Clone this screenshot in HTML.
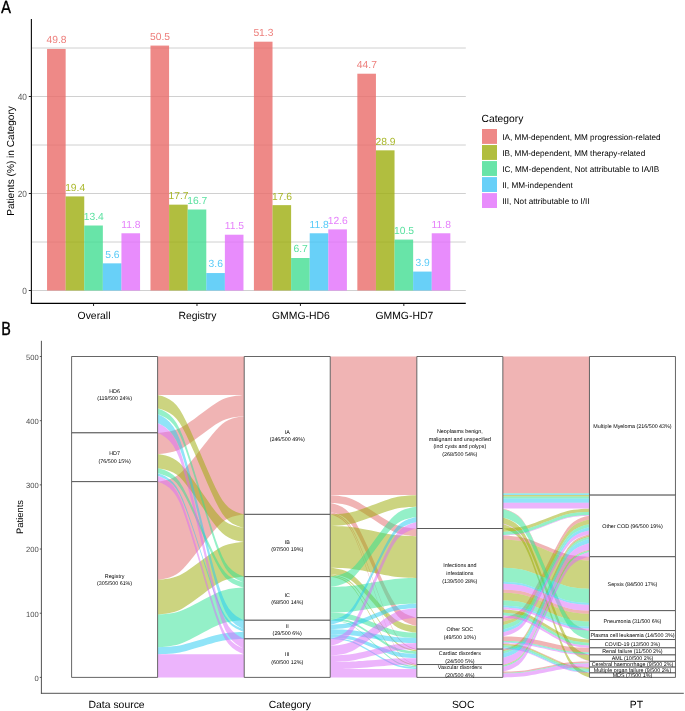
<!DOCTYPE html>
<html lang="en"><head><meta charset="utf-8"><title>Figure</title>
<style>html,body{margin:0;padding:0;background:#fff}svg{display:block}text{white-space:pre;text-rendering:geometricPrecision}</style>
</head><body>
<svg width="685" height="711" viewBox="0 0 685 711" font-family='"Liberation Sans", sans-serif'>
<line x1="31.4" x2="465.8" y1="290.50" y2="290.50" stroke="#D0D0D0" stroke-width="1"/>
<line x1="31.4" x2="465.8" y1="242.00" y2="242.00" stroke="#D0D0D0" stroke-width="1"/>
<line x1="31.4" x2="465.8" y1="193.50" y2="193.50" stroke="#D0D0D0" stroke-width="1"/>
<line x1="31.4" x2="465.8" y1="145.00" y2="145.00" stroke="#D0D0D0" stroke-width="1"/>
<line x1="31.4" x2="465.8" y1="96.50" y2="96.50" stroke="#D0D0D0" stroke-width="1"/>
<line x1="31.4" x2="465.8" y1="48.00" y2="48.00" stroke="#D0D0D0" stroke-width="1"/>
<rect x="47.05" y="48.97" width="18.60" height="241.53" fill="#EA6C69" fill-opacity="0.8"/>
<rect x="65.65" y="196.41" width="18.60" height="94.09" fill="#9EAE0F" fill-opacity="0.8"/>
<rect x="84.25" y="225.51" width="18.60" height="64.99" fill="#42DD92" fill-opacity="0.8"/>
<rect x="102.85" y="263.34" width="18.60" height="27.16" fill="#42C4F6" fill-opacity="0.8"/>
<rect x="121.45" y="233.27" width="18.60" height="57.23" fill="#E26FFB" fill-opacity="0.8"/>
<text x="56.55" y="43.37" font-size="10.3" fill="#EA6C69" fill-opacity="0.88" text-anchor="middle">49.8</text>
<text x="75.15" y="190.81" font-size="10.3" fill="#9EAE0F" fill-opacity="0.88" text-anchor="middle">19.4</text>
<text x="93.75" y="219.91" font-size="10.3" fill="#42DD92" fill-opacity="0.88" text-anchor="middle">13.4</text>
<text x="112.35" y="257.74" font-size="10.3" fill="#42C4F6" fill-opacity="0.88" text-anchor="middle">5.6</text>
<text x="130.95" y="227.67" font-size="10.3" fill="#E26FFB" fill-opacity="0.88" text-anchor="middle">11.8</text>
<line x1="93.55" x2="93.55" y1="303.2" y2="306.0" stroke="#222" stroke-width="1"/>
<text x="94.05" y="318.7" font-size="10.4" fill="#000" text-anchor="middle">Overall</text>
<rect x="150.48" y="45.58" width="18.60" height="244.92" fill="#EA6C69" fill-opacity="0.8"/>
<rect x="169.08" y="204.66" width="18.60" height="85.84" fill="#9EAE0F" fill-opacity="0.8"/>
<rect x="187.68" y="209.50" width="18.60" height="81.00" fill="#42DD92" fill-opacity="0.8"/>
<rect x="206.28" y="273.04" width="18.60" height="17.46" fill="#42C4F6" fill-opacity="0.8"/>
<rect x="224.88" y="234.72" width="18.60" height="55.78" fill="#E26FFB" fill-opacity="0.8"/>
<text x="159.98" y="39.98" font-size="10.3" fill="#EA6C69" fill-opacity="0.88" text-anchor="middle">50.5</text>
<text x="178.58" y="199.06" font-size="10.3" fill="#9EAE0F" fill-opacity="0.88" text-anchor="middle">17.7</text>
<text x="197.18" y="203.91" font-size="10.3" fill="#42DD92" fill-opacity="0.88" text-anchor="middle">16.7</text>
<text x="215.78" y="267.44" font-size="10.3" fill="#42C4F6" fill-opacity="0.88" text-anchor="middle">3.6</text>
<text x="234.38" y="229.12" font-size="10.3" fill="#E26FFB" fill-opacity="0.88" text-anchor="middle">11.5</text>
<line x1="196.98" x2="196.98" y1="303.2" y2="306.0" stroke="#222" stroke-width="1"/>
<text x="197.48" y="318.7" font-size="10.4" fill="#000" text-anchor="middle">Registry</text>
<rect x="253.91" y="41.70" width="18.60" height="248.80" fill="#EA6C69" fill-opacity="0.8"/>
<rect x="272.51" y="205.14" width="18.60" height="85.36" fill="#9EAE0F" fill-opacity="0.8"/>
<rect x="291.11" y="258.00" width="18.60" height="32.50" fill="#42DD92" fill-opacity="0.8"/>
<rect x="309.71" y="233.27" width="18.60" height="57.23" fill="#42C4F6" fill-opacity="0.8"/>
<rect x="328.31" y="229.39" width="18.60" height="61.11" fill="#E26FFB" fill-opacity="0.8"/>
<text x="263.41" y="36.10" font-size="10.3" fill="#EA6C69" fill-opacity="0.88" text-anchor="middle">51.3</text>
<text x="282.01" y="199.54" font-size="10.3" fill="#9EAE0F" fill-opacity="0.88" text-anchor="middle">17.6</text>
<text x="300.61" y="252.41" font-size="10.3" fill="#42DD92" fill-opacity="0.88" text-anchor="middle">6.7</text>
<text x="319.21" y="227.67" font-size="10.3" fill="#42C4F6" fill-opacity="0.88" text-anchor="middle">11.8</text>
<text x="337.81" y="223.79" font-size="10.3" fill="#E26FFB" fill-opacity="0.88" text-anchor="middle">12.6</text>
<line x1="300.41" x2="300.41" y1="303.2" y2="306.0" stroke="#222" stroke-width="1"/>
<text x="300.91" y="318.7" font-size="10.4" fill="#000" text-anchor="middle">GMMG-HD6</text>
<rect x="357.34" y="73.71" width="18.60" height="216.79" fill="#EA6C69" fill-opacity="0.8"/>
<rect x="375.94" y="150.34" width="18.60" height="140.16" fill="#9EAE0F" fill-opacity="0.8"/>
<rect x="394.54" y="239.57" width="18.60" height="50.93" fill="#42DD92" fill-opacity="0.8"/>
<rect x="413.14" y="271.58" width="18.60" height="18.92" fill="#42C4F6" fill-opacity="0.8"/>
<rect x="431.74" y="233.27" width="18.60" height="57.23" fill="#E26FFB" fill-opacity="0.8"/>
<text x="366.84" y="68.11" font-size="10.3" fill="#EA6C69" fill-opacity="0.88" text-anchor="middle">44.7</text>
<text x="385.44" y="144.74" font-size="10.3" fill="#9EAE0F" fill-opacity="0.88" text-anchor="middle">28.9</text>
<text x="404.04" y="233.97" font-size="10.3" fill="#42DD92" fill-opacity="0.88" text-anchor="middle">10.5</text>
<text x="422.64" y="265.98" font-size="10.3" fill="#42C4F6" fill-opacity="0.88" text-anchor="middle">3.9</text>
<text x="441.24" y="227.67" font-size="10.3" fill="#E26FFB" fill-opacity="0.88" text-anchor="middle">11.8</text>
<line x1="403.84" x2="403.84" y1="303.2" y2="306.0" stroke="#222" stroke-width="1"/>
<text x="404.34" y="318.7" font-size="10.4" fill="#000" text-anchor="middle">GMMG-HD7</text>
<line x1="31.4" x2="31.4" y1="19.1" y2="303.75" stroke="#111" stroke-width="1.15"/>
<line x1="30.849999999999998" x2="465.8" y1="303.34999999999997" y2="303.34999999999997" stroke="#000" stroke-width="1.15"/>
<line x1="28.799999999999997" x2="31.4" y1="290.50" y2="290.50" stroke="#222" stroke-width="1"/>
<text transform="translate(26.9,294.00) scale(1,1.09)" font-size="8.3" fill="#555" text-anchor="end">0</text>
<line x1="28.799999999999997" x2="31.4" y1="193.50" y2="193.50" stroke="#222" stroke-width="1"/>
<text transform="translate(26.9,197.00) scale(1,1.09)" font-size="8.3" fill="#555" text-anchor="end">20</text>
<line x1="28.799999999999997" x2="31.4" y1="96.50" y2="96.50" stroke="#222" stroke-width="1"/>
<text transform="translate(26.9,100.00) scale(1,1.09)" font-size="8.3" fill="#555" text-anchor="end">40</text>
<text transform="translate(13.5,161.0) rotate(-90)" font-size="10.15" fill="#000" text-anchor="middle">Patients (%) in Category</text>
<text transform="translate(0.9,13.0) scale(0.885,1)" font-size="16.7" fill="#000" stroke="#000" stroke-width="0.3" font-family="'DejaVu Sans', 'Liberation Sans', sans-serif">A</text>
<text transform="translate(0.9,334.7) scale(0.82,1)" font-size="18" fill="#000" stroke="#000" stroke-width="0.3" font-family="'DejaVu Sans', 'Liberation Sans', sans-serif">B</text>
<text x="481.5" y="122.3" font-size="10.3" fill="#000">Category</text>
<rect x="482" y="129.00" width="15" height="14.9" fill="#EA6C69" fill-opacity="0.8"/>
<text x="502.3" y="139.70" font-size="8.2" fill="#000">IA, MM-dependent, MM progression-related</text>
<rect x="482" y="145.03" width="15" height="14.9" fill="#9EAE0F" fill-opacity="0.8"/>
<text x="502.3" y="155.73" font-size="8.2" fill="#000">IB, MM-dependent, MM therapy-related</text>
<rect x="482" y="161.06" width="15" height="14.9" fill="#42DD92" fill-opacity="0.8"/>
<text x="502.3" y="171.76" font-size="8.2" fill="#000">IC, MM-dependent, Not attributable to IA/IB</text>
<rect x="482" y="177.09" width="15" height="14.9" fill="#42C4F6" fill-opacity="0.8"/>
<text x="502.3" y="187.79" font-size="8.2" fill="#000">II, MM-independent</text>
<rect x="482" y="193.12" width="15" height="14.9" fill="#E26FFB" fill-opacity="0.8"/>
<text x="502.3" y="203.82" font-size="8.2" fill="#000">III, Not attributable to I/II</text>
<path d="M157.6,356.5 157.8,356.5 159.2,356.5 162,356.5 165.7,356.5 169.6,356.5 173.2,356.5 176.5,356.5 179.7,356.5 182.9,356.5 186.3,356.5 190.1,356.5 194.3,356.5 198.7,356.5 203.2,356.5 207.6,356.5 211.7,356.5 215.5,356.5 219,356.5 222.2,356.5 225.3,356.5 228.6,356.5 232.2,356.5 236.1,356.5 239.9,356.5 242.6,356.5 244,356.5 244.2,356.5 244.2,395 244,395 242.6,395 239.9,395 236.1,395 232.2,395 228.6,395 225.3,395 222.2,395 219,395 215.5,395 211.7,395 207.6,395 203.2,395 198.7,395 194.3,395 190.1,395 186.3,395 182.9,395 179.7,395 176.5,395 173.2,395 169.6,395 165.7,395 162,395 159.2,395 157.8,395 157.6,395Z" fill="#E16969" fill-opacity="0.5"/>
<path d="M157.6,432.9 157.8,432.9 159.2,432.8 162,432.5 165.7,432.1 169.6,431.5 173.2,430.6 176.5,429.6 179.7,428.3 182.9,426.6 186.3,424.4 190.1,421.8 194.3,418.9 198.7,415.6 203.2,412.3 207.6,409 211.7,406 215.5,403.5 219,401.3 222.2,399.6 225.3,398.3 228.6,397.2 232.2,396.4 236.1,395.8 239.9,395.4 242.6,395.1 244,395 244.2,395 244.2,416.2 244,416.2 242.6,416.3 239.9,416.5 236.1,417 232.2,417.6 228.6,418.4 225.3,419.4 222.2,420.8 219,422.5 215.5,424.6 211.7,427.2 207.6,430.2 203.2,433.4 198.7,436.8 194.3,440 190.1,443 186.3,445.6 182.9,447.7 179.7,449.5 176.5,450.8 173.2,451.8 169.6,452.6 165.7,453.3 162,453.7 159.2,453.9 157.8,454 157.6,454.1Z" fill="#E16969" fill-opacity="0.5"/>
<path d="M157.6,481.7 157.8,481.6 159.2,481.5 162,481 165.7,480.3 169.6,479.2 173.2,477.8 176.5,476 179.7,473.7 182.9,470.7 186.3,467 190.1,462.6 194.3,457.4 198.7,451.8 203.2,446 207.6,440.4 211.7,435.3 215.5,430.8 219,427.1 222.2,424.1 225.3,421.8 228.6,420 232.2,418.6 236.1,417.6 239.9,416.8 242.6,416.4 244,416.2 244.2,416.2 244.2,514.4 244,514.4 242.6,514.6 239.9,515 236.1,515.8 232.2,516.8 228.6,518.2 225.3,520 222.2,522.3 219,525.3 215.5,529 211.7,533.5 207.6,538.6 203.2,544.2 198.7,550 194.3,555.6 190.1,560.8 186.3,565.2 182.9,568.9 179.7,571.9 176.5,574.2 173.2,576 169.6,577.4 165.7,578.5 162,579.2 159.2,579.7 157.8,579.8 157.6,579.8Z" fill="#E16969" fill-opacity="0.5"/>
<path d="M330.2,356.5 330.4,356.5 331.8,356.5 334.6,356.5 338.3,356.5 342.2,356.5 345.8,356.5 349.1,356.5 352.3,356.5 355.5,356.5 358.9,356.5 362.7,356.5 366.9,356.5 371.3,356.5 375.8,356.5 380.2,356.5 384.3,356.5 388.1,356.5 391.6,356.5 394.8,356.5 397.9,356.5 401.2,356.5 404.8,356.5 408.7,356.5 412.5,356.5 415.3,356.5 416.6,356.5 416.8,356.5 416.8,495.1 416.6,495.1 415.3,495.1 412.5,495.1 408.7,495.1 404.8,495.1 401.2,495.1 397.9,495.1 394.8,495.1 391.6,495.1 388.1,495.1 384.3,495.1 380.2,495.1 375.8,495.1 371.3,495.1 366.9,495.1 362.7,495.1 358.9,495.1 355.5,495.1 352.3,495.1 349.1,495.1 345.8,495.1 342.2,495.1 338.3,495.1 334.6,495.1 331.8,495.1 330.4,495.1 330.2,495.1Z" fill="#E16969" fill-opacity="0.5"/>
<path d="M330.2,495.1 330.4,495.1 331.8,495.2 334.6,495.4 338.3,495.8 342.2,496.4 345.8,497.1 349.1,498 352.3,499.2 355.5,500.7 358.9,502.6 362.7,504.9 366.9,507.5 371.3,510.3 375.8,513.3 380.2,516.2 384.3,518.8 388.1,521.1 391.6,522.9 394.8,524.5 397.9,525.6 401.2,526.5 404.8,527.3 408.7,527.8 412.5,528.2 415.3,528.4 416.6,528.5 416.8,528.5 416.8,536.2 416.6,536.2 415.3,536.1 412.5,535.9 408.7,535.5 404.8,535 401.2,534.2 397.9,533.3 394.8,532.2 391.6,530.6 388.1,528.8 384.3,526.5 380.2,523.9 375.8,521 371.3,518 366.9,515.2 362.7,512.6 358.9,510.3 355.5,508.4 352.3,506.9 349.1,505.7 345.8,504.8 342.2,504.1 338.3,503.5 334.6,503.1 331.8,502.9 330.4,502.8 330.2,502.8Z" fill="#E16969" fill-opacity="0.5"/>
<path d="M330.2,502.8 330.4,502.9 331.8,503.2 334.6,503.9 338.3,505.3 342.2,507.1 345.8,509.6 349.1,512.7 352.3,516.8 355.5,522 358.9,528.5 362.7,536.3 366.9,545.3 371.3,555.2 375.8,565.4 380.2,575.2 384.3,584.2 388.1,592.1 391.6,598.6 394.8,603.8 397.9,607.8 401.2,611 404.8,613.4 408.7,615.3 412.5,616.6 415.3,617.4 416.6,617.7 416.8,617.7 416.8,626.1 416.6,626 415.3,625.7 412.5,625 408.7,623.6 404.8,621.8 401.2,619.3 397.9,616.2 394.8,612.2 391.6,607 388.1,600.6 384.3,592.8 380.2,583.8 375.8,574 371.3,563.9 366.9,554.1 362.7,545.1 358.9,537.3 355.5,530.9 352.3,525.7 349.1,521.7 345.8,518.5 342.2,516.1 338.3,514.2 334.6,512.9 331.8,512.1 330.4,511.9 330.2,511.8Z" fill="#E16969" fill-opacity="0.5"/>
<path d="M330.2,511.8 330.4,511.9 331.8,512.2 334.6,513.1 338.3,514.7 342.2,517 345.8,519.9 349.1,523.6 352.3,528.5 355.5,534.7 358.9,542.5 362.7,551.8 366.9,562.6 371.3,574.4 375.8,586.6 380.2,598.4 384.3,609.1 388.1,618.5 391.6,626.3 394.8,632.5 397.9,637.3 401.2,641.1 404.8,644 408.7,646.3 412.5,647.8 415.3,648.8 416.6,649.1 416.8,649.2 416.8,650.1 416.6,650.1 415.3,649.7 412.5,648.8 408.7,647.2 404.8,645 401.2,642.1 397.9,638.3 394.8,633.5 391.6,627.3 388.1,619.5 384.3,610.2 380.2,599.4 375.8,587.7 371.3,575.5 366.9,563.8 362.7,553 358.9,543.7 355.5,535.9 352.3,529.7 349.1,524.9 345.8,521.2 342.2,518.2 338.3,516 334.6,514.4 331.8,513.5 330.4,513.1 330.2,513.1Z" fill="#E16969" fill-opacity="0.5"/>
<path d="M330.2,513.1 330.4,513.2 331.8,513.5 334.6,514.5 338.3,516.3 342.2,518.8 345.8,522 349.1,526.1 352.3,531.5 355.5,538.3 358.9,546.9 362.7,557.2 366.9,569.1 371.3,582.1 375.8,595.5 380.2,608.5 384.3,620.4 388.1,630.7 391.6,639.3 394.8,646.2 397.9,651.5 401.2,655.7 404.8,658.9 408.7,661.4 412.5,663.1 415.3,664.1 416.6,664.5 416.8,664.6 416.8,665.2 416.6,665.2 415.3,664.8 412.5,663.8 408.7,662 404.8,659.5 401.2,656.3 397.9,652.2 394.8,646.9 391.6,640.1 388.1,631.5 384.3,621.3 380.2,609.4 375.8,596.5 371.3,583.1 366.9,570.2 362.7,558.3 358.9,548.1 355.5,539.5 352.3,532.7 349.1,527.4 345.8,523.3 342.2,520 338.3,517.6 334.6,515.8 331.8,514.8 330.4,514.4 330.2,514.4Z" fill="#E16969" fill-opacity="0.5"/>
<path d="M502.8,356.5 503.1,356.5 504.4,356.5 507.2,356.5 510.9,356.5 514.8,356.5 518.5,356.5 521.8,356.5 524.9,356.5 528.1,356.5 531.6,356.5 535.3,356.5 539.5,356.5 543.9,356.5 548.4,356.5 552.8,356.5 557,356.5 560.7,356.5 564.2,356.5 567.4,356.5 570.5,356.5 573.8,356.5 577.5,356.5 581.4,356.5 585.1,356.5 587.9,356.5 589.2,356.5 589.5,356.5 589.5,493.2 589.2,493.2 587.9,493.2 585.1,493.2 581.4,493.2 577.5,493.2 573.8,493.2 570.5,493.2 567.4,493.2 564.2,493.2 560.7,493.2 557,493.2 552.8,493.2 548.4,493.2 543.9,493.2 539.5,493.2 535.3,493.2 531.6,493.2 528.1,493.2 524.9,493.2 521.8,493.2 518.5,493.2 514.8,493.2 510.9,493.2 507.2,493.2 504.4,493.2 503.1,493.2 502.8,493.2Z" fill="#E16969" fill-opacity="0.5"/>
<path d="M502.8,508.6 503.1,508.7 504.4,509 507.2,509.8 510.9,511.2 514.8,513.2 518.5,515.8 521.8,519.1 524.9,523.4 528.1,528.9 531.6,535.8 535.3,544.1 539.5,553.7 543.9,564.2 548.4,575 552.8,585.4 557,595 560.7,603.3 564.2,610.2 567.4,615.8 570.5,620.1 573.8,623.4 577.5,626 581.4,628 585.1,629.4 587.9,630.2 589.2,630.5 589.5,630.5 589.5,631.2 589.2,631.1 587.9,630.8 585.1,630 581.4,628.6 577.5,626.6 573.8,624 570.5,620.7 567.4,616.4 564.2,610.9 560.7,604 557,595.7 552.8,586.1 548.4,575.6 543.9,564.8 539.5,554.3 535.3,544.8 531.6,536.5 528.1,529.6 524.9,524 521.8,519.7 518.5,516.4 514.8,513.8 510.9,511.8 507.2,510.4 504.4,509.6 503.1,509.3 502.8,509.2Z" fill="#E16969" fill-opacity="0.5"/>
<path d="M502.8,535.6 503.1,535.6 504.4,535.6 507.2,535.8 510.9,536 514.8,536.4 518.5,536.8 521.8,537.4 524.9,538.1 528.1,539.1 531.6,540.3 535.3,541.7 539.5,543.4 543.9,545.2 548.4,547.1 552.8,548.9 557,550.6 560.7,552 564.2,553.2 567.4,554.2 570.5,554.9 573.8,555.5 577.5,555.9 581.4,556.3 585.1,556.5 587.9,556.7 589.2,556.7 589.5,556.7 589.5,560.6 589.2,560.6 587.9,560.5 585.1,560.4 581.4,560.1 577.5,559.8 573.8,559.3 570.5,558.8 567.4,558 564.2,557.1 560.7,555.9 557,554.4 552.8,552.8 548.4,550.9 543.9,549.1 539.5,547.2 535.3,545.6 531.6,544.1 528.1,542.9 524.9,542 521.8,541.2 518.5,540.7 514.8,540.2 510.9,539.9 507.2,539.6 504.4,539.5 503.1,539.4 502.8,539.4Z" fill="#E16969" fill-opacity="0.5"/>
<path d="M502.8,589.5 503.1,589.5 504.4,589.5 507.2,589.7 510.9,589.9 514.8,590.3 518.5,590.7 521.8,591.3 524.9,592 528.1,593 531.6,594.2 535.3,595.6 539.5,597.3 543.9,599.1 548.4,601 552.8,602.8 557,604.5 560.7,605.9 564.2,607.1 567.4,608.1 570.5,608.8 573.8,609.4 577.5,609.9 581.4,610.2 585.1,610.5 587.9,610.6 589.2,610.6 589.5,610.7 589.5,613.9 589.2,613.9 587.9,613.8 585.1,613.7 581.4,613.4 577.5,613.1 573.8,612.6 570.5,612 567.4,611.3 564.2,610.3 560.7,609.1 557,607.7 552.8,606 548.4,604.2 543.9,602.3 539.5,600.5 535.3,598.9 531.6,597.4 528.1,596.2 524.9,595.3 521.8,594.5 518.5,593.9 514.8,593.5 510.9,593.1 507.2,592.9 504.4,592.7 503.1,592.7 502.8,592.7Z" fill="#E16969" fill-opacity="0.5"/>
<path d="M502.8,617.7 503.1,617.7 504.4,617.4 507.2,616.7 510.9,615.6 514.8,613.9 518.5,611.7 521.8,608.9 524.9,605.3 528.1,600.7 531.6,594.9 535.3,588 539.5,580 543.9,571.2 548.4,562.2 552.8,553.4 557,545.4 560.7,538.4 564.2,532.7 567.4,528 570.5,524.5 573.8,521.7 577.5,519.5 581.4,517.8 585.1,516.6 587.9,516 589.2,515.7 589.5,515.7 589.5,519.5 589.2,519.6 587.9,519.8 585.1,520.5 581.4,521.7 577.5,523.3 573.8,525.5 570.5,528.3 567.4,531.9 564.2,536.5 560.7,542.3 557,549.2 552.8,557.3 548.4,566 543.9,575.1 539.5,583.8 535.3,591.8 531.6,598.8 528.1,604.6 524.9,609.2 521.8,612.8 518.5,615.6 514.8,617.7 510.9,619.4 507.2,620.6 504.4,621.3 503.1,621.5 502.8,621.6Z" fill="#E16969" fill-opacity="0.5"/>
<path d="M502.8,636.3 503.1,636.3 504.4,636.4 507.2,636.4 510.9,636.6 514.8,636.8 518.5,637 521.8,637.3 524.9,637.7 528.1,638.3 531.6,638.9 535.3,639.7 539.5,640.6 543.9,641.6 548.4,642.6 552.8,643.6 557,644.5 560.7,645.3 564.2,646 567.4,646.5 570.5,646.9 573.8,647.2 577.5,647.4 581.4,647.6 585.1,647.8 587.9,647.8 589.2,647.9 589.5,647.9 589.5,652.4 589.2,652.4 587.9,652.3 585.1,652.3 581.4,652.1 577.5,651.9 573.8,651.7 570.5,651.4 567.4,651 564.2,650.4 560.7,649.8 557,649 552.8,648.1 548.4,647.1 543.9,646.1 539.5,645.1 535.3,644.2 531.6,643.4 528.1,642.7 524.9,642.2 521.8,641.8 518.5,641.5 514.8,641.3 510.9,641.1 507.2,640.9 504.4,640.9 503.1,640.8 502.8,640.8Z" fill="#E16969" fill-opacity="0.5"/>
<path d="M502.8,643.4 503.1,643.4 504.4,643.5 507.2,643.6 510.9,643.9 514.8,644.3 518.5,644.8 521.8,645.4 524.9,646.3 528.1,647.3 531.6,648.7 535.3,650.3 539.5,652.2 543.9,654.2 548.4,656.3 552.8,658.3 557,660.2 560.7,661.8 564.2,663.2 567.4,664.3 570.5,665.1 573.8,665.7 577.5,666.2 581.4,666.6 585.1,666.9 587.9,667.1 589.2,667.1 589.5,667.1 589.5,667.8 589.2,667.8 587.9,667.7 585.1,667.5 581.4,667.3 577.5,666.9 573.8,666.4 570.5,665.7 567.4,664.9 564.2,663.8 560.7,662.5 557,660.9 552.8,659 548.4,657 543.9,654.8 539.5,652.8 535.3,650.9 531.6,649.3 528.1,648 524.9,646.9 521.8,646.1 518.5,645.4 514.8,644.9 510.9,644.5 507.2,644.3 504.4,644.1 503.1,644 502.8,644Z" fill="#E16969" fill-opacity="0.5"/>
<path d="M502.8,649.2 503.1,649.1 504.4,648.8 507.2,648.1 510.9,646.7 514.8,644.9 518.5,642.4 521.8,639.3 524.9,635.2 528.1,630 531.6,623.5 535.3,615.7 539.5,606.7 543.9,596.8 548.4,586.6 552.8,576.8 557,567.7 560.7,559.9 564.2,553.4 567.4,548.2 570.5,544.2 573.8,541 577.5,538.6 581.4,536.7 585.1,535.4 587.9,534.6 589.2,534.3 589.5,534.3 589.5,535.6 589.2,535.6 587.9,535.9 585.1,536.7 581.4,538 577.5,539.9 573.8,542.3 570.5,545.4 567.4,549.4 564.2,554.6 560.7,561.1 557,568.9 552.8,577.9 548.4,587.7 543.9,597.9 539.5,607.7 535.3,616.7 531.6,624.5 528.1,631 524.9,636.2 521.8,640.2 518.5,643.3 514.8,645.8 510.9,647.6 507.2,649 504.4,649.7 503.1,650 502.8,650.1Z" fill="#E16969" fill-opacity="0.5"/>
<path d="M502.8,664.6 503.1,664.5 504.4,664.2 507.2,663.5 510.9,662.1 514.8,660.3 518.5,657.8 521.8,654.7 524.9,650.6 528.1,645.4 531.6,638.9 535.3,631.1 539.5,622.1 543.9,612.2 548.4,602 552.8,592.2 557,583.2 560.7,575.3 564.2,568.8 567.4,563.6 570.5,559.6 573.8,556.4 577.5,554 581.4,552.1 585.1,550.8 587.9,550 589.2,549.7 589.5,549.7 589.5,550.2 589.2,550.2 587.9,550.5 585.1,551.3 581.4,552.6 577.5,554.5 573.8,557 570.5,560.1 567.4,564.1 564.2,569.3 560.7,575.8 557,583.7 552.8,592.7 548.4,602.6 543.9,612.7 539.5,622.6 535.3,631.6 531.6,639.4 528.1,645.9 524.9,651.1 521.8,655.2 518.5,658.3 514.8,660.8 510.9,662.7 507.2,664 504.4,664.7 503.1,665 502.8,665.1Z" fill="#E16969" fill-opacity="0.5"/>
<path d="M502.8,671.6 503.1,671.6 504.4,671.6 507.2,671.5 510.9,671.4 514.8,671.2 518.5,671 521.8,670.7 524.9,670.4 528.1,669.9 531.6,669.3 535.3,668.6 539.5,667.8 543.9,666.9 548.4,666 552.8,665.2 557,664.3 560.7,663.6 564.2,663.1 567.4,662.6 570.5,662.2 573.8,662 577.5,661.7 581.4,661.6 585.1,661.5 587.9,661.4 589.2,661.4 589.5,661.4 589.5,662.6 589.2,662.6 587.9,662.7 585.1,662.7 581.4,662.9 577.5,663 573.8,663.2 570.5,663.5 567.4,663.9 564.2,664.4 560.7,664.9 557,665.6 552.8,666.4 548.4,667.3 543.9,668.2 539.5,669.1 535.3,669.9 531.6,670.6 528.1,671.2 524.9,671.7 521.8,672 518.5,672.3 514.8,672.5 510.9,672.7 507.2,672.8 504.4,672.9 503.1,672.9 502.8,672.9Z" fill="#E16969" fill-opacity="0.5"/>
<path d="M157.6,395 157.8,395.1 159.2,395.4 162,396.1 165.7,397.5 169.6,399.5 173.2,402 176.5,405.3 179.7,409.5 182.9,414.9 186.3,421.7 190.1,429.8 194.3,439.2 198.7,449.4 203.2,460 207.6,470.2 211.7,479.6 215.5,487.7 219,494.5 222.2,499.9 225.3,504.1 228.6,507.4 232.2,509.9 236.1,511.9 239.9,513.2 242.6,514 244,514.3 244.2,514.4 244.2,527.9 244,527.8 242.6,527.5 239.9,526.7 236.1,525.3 232.2,523.4 228.6,520.8 225.3,517.6 222.2,513.4 219,508 215.5,501.2 211.7,493.1 207.6,483.7 203.2,473.5 198.7,462.9 194.3,452.6 190.1,443.3 186.3,435.1 182.9,428.4 179.7,423 176.5,418.8 173.2,415.5 169.6,413 165.7,411 162,409.6 159.2,408.8 157.8,408.5 157.6,408.5Z" fill="#99A901" fill-opacity="0.5"/>
<path d="M157.6,454.1 157.8,454.1 159.2,454.3 162,454.8 165.7,455.6 169.6,456.8 173.2,458.4 176.5,460.4 179.7,463 182.9,466.4 186.3,470.5 190.1,475.6 194.3,481.4 198.7,487.7 203.2,494.2 207.6,500.6 211.7,506.4 215.5,511.4 219,515.6 222.2,518.9 225.3,521.5 228.6,523.5 232.2,525.1 236.1,526.3 239.9,527.2 242.6,527.6 244,527.8 244.2,527.9 244.2,542 244,542 242.6,541.8 239.9,541.3 236.1,540.4 232.2,539.2 228.6,537.6 225.3,535.6 222.2,533 219,529.7 215.5,525.5 211.7,520.5 207.6,514.7 203.2,508.3 198.7,501.8 194.3,495.5 190.1,489.7 186.3,484.7 182.9,480.5 179.7,477.1 176.5,474.5 173.2,472.5 169.6,470.9 165.7,469.7 162,468.9 159.2,468.4 157.8,468.2 157.6,468.2Z" fill="#99A901" fill-opacity="0.5"/>
<path d="M157.6,579.8 157.8,579.8 159.2,579.7 162,579.5 165.7,579 169.6,578.4 173.2,577.6 176.5,576.6 179.7,575.3 182.9,573.5 186.3,571.4 190.1,568.8 194.3,565.8 198.7,562.6 203.2,559.2 207.6,556 211.7,553 215.5,550.4 219,548.3 222.2,546.6 225.3,545.2 228.6,544.2 232.2,543.4 236.1,542.8 239.9,542.3 242.6,542.1 244,542 244.2,542 244.2,576.6 244,576.7 242.6,576.7 239.9,577 236.1,577.4 232.2,578.1 228.6,578.9 225.3,579.9 222.2,581.2 219,582.9 215.5,585.1 211.7,587.7 207.6,590.6 203.2,593.9 198.7,597.2 194.3,600.5 190.1,603.5 186.3,606 182.9,608.2 179.7,609.9 176.5,611.2 173.2,612.3 169.6,613.1 165.7,613.7 162,614.1 159.2,614.4 157.8,614.5 157.6,614.5Z" fill="#99A901" fill-opacity="0.5"/>
<path d="M330.2,514.4 330.4,514.4 331.8,514.3 334.6,514.2 338.3,514 342.2,513.7 345.8,513.3 349.1,512.7 352.3,512 355.5,511.2 358.9,510.1 362.7,508.8 366.9,507.3 371.3,505.6 375.8,503.9 380.2,502.3 384.3,500.7 388.1,499.4 391.6,498.3 394.8,497.5 397.9,496.8 401.2,496.3 404.8,495.9 408.7,495.5 412.5,495.3 415.3,495.2 416.6,495.1 416.8,495.1 416.8,506.7 416.6,506.7 415.3,506.7 412.5,506.9 408.7,507.1 404.8,507.4 401.2,507.8 397.9,508.3 394.8,509 391.6,509.9 388.1,511 384.3,512.3 380.2,513.8 375.8,515.5 371.3,517.2 366.9,518.8 362.7,520.3 358.9,521.6 355.5,522.7 352.3,523.6 349.1,524.3 345.8,524.8 342.2,525.2 338.3,525.5 334.6,525.8 331.8,525.9 330.4,525.9 330.2,525.9Z" fill="#99A901" fill-opacity="0.5"/>
<path d="M330.2,525.9 330.4,525.9 331.8,526 334.6,526 338.3,526.2 342.2,526.3 345.8,526.5 349.1,526.8 352.3,527.2 355.5,527.6 358.9,528.2 362.7,528.9 366.9,529.7 371.3,530.6 375.8,531.5 380.2,532.4 384.3,533.2 388.1,533.9 391.6,534.5 394.8,535 397.9,535.3 401.2,535.6 404.8,535.8 408.7,536 412.5,536.1 415.3,536.2 416.6,536.2 416.8,536.2 416.8,577.9 416.6,577.9 415.3,577.9 412.5,577.8 408.7,577.7 404.8,577.5 401.2,577.3 397.9,577 394.8,576.7 391.6,576.2 388.1,575.6 384.3,574.9 380.2,574.1 375.8,573.2 371.3,572.3 366.9,571.5 362.7,570.6 358.9,569.9 355.5,569.4 352.3,568.9 349.1,568.5 345.8,568.3 342.2,568 338.3,567.9 334.6,567.8 331.8,567.7 330.4,567.7 330.2,567.7Z" fill="#99A901" fill-opacity="0.5"/>
<path d="M330.2,567.7 330.4,567.7 331.8,567.8 334.6,568.2 338.3,568.9 342.2,569.8 345.8,571.1 349.1,572.7 352.3,574.7 355.5,577.4 358.9,580.7 362.7,584.7 366.9,589.3 371.3,594.3 375.8,599.4 380.2,604.5 384.3,609 388.1,613 391.6,616.3 394.8,619 397.9,621 401.2,622.6 404.8,623.9 408.7,624.8 412.5,625.5 415.3,625.9 416.6,626 416.8,626.1 416.8,632.8 416.6,632.8 415.3,632.6 412.5,632.2 408.7,631.6 404.8,630.6 401.2,629.3 397.9,627.7 394.8,625.7 391.6,623 388.1,619.7 384.3,615.7 380.2,611.1 375.8,606 371.3,600.8 366.9,595.8 362.7,591.2 358.9,587.2 355.5,583.9 352.3,581.2 349.1,579.1 345.8,577.5 342.2,576.3 338.3,575.3 334.6,574.6 331.8,574.2 330.4,574.1 330.2,574.1Z" fill="#99A901" fill-opacity="0.5"/>
<path d="M330.2,574.1 330.4,574.1 331.8,574.3 334.6,574.8 338.3,575.7 342.2,576.9 345.8,578.5 349.1,580.6 352.3,583.3 355.5,586.7 358.9,591 362.7,596.2 366.9,602.2 371.3,608.7 375.8,615.5 380.2,622 384.3,628 388.1,633.1 391.6,637.4 394.8,640.9 397.9,643.6 401.2,645.6 404.8,647.3 408.7,648.5 412.5,649.4 415.3,649.9 416.6,650.1 416.8,650.1 416.8,651.4 416.6,651.4 415.3,651.2 412.5,650.7 408.7,649.8 404.8,648.6 401.2,646.9 397.9,644.9 394.8,642.2 391.6,638.7 388.1,634.4 384.3,629.2 380.2,623.3 375.8,616.7 371.3,610 366.9,603.5 362.7,597.5 358.9,592.3 355.5,588 352.3,584.6 349.1,581.9 345.8,579.8 342.2,578.2 338.3,577 334.6,576.1 331.8,575.6 330.4,575.4 330.2,575.4Z" fill="#99A901" fill-opacity="0.5"/>
<path d="M330.2,575.4 330.4,575.4 331.8,575.6 334.6,576.2 338.3,577.3 342.2,578.7 345.8,580.6 349.1,583.1 352.3,586.3 355.5,590.3 358.9,595.4 362.7,601.5 366.9,608.6 371.3,616.3 375.8,624.3 380.2,632 384.3,639 388.1,645.1 391.6,650.2 394.8,654.3 397.9,657.5 401.2,659.9 404.8,661.8 408.7,663.3 412.5,664.3 415.3,664.9 416.6,665.2 416.8,665.2 416.8,666.2 416.6,666.1 415.3,665.9 412.5,665.3 408.7,664.3 404.8,662.8 401.2,660.9 397.9,658.5 394.8,655.3 391.6,651.2 388.1,646.2 384.3,640.1 380.2,633.1 375.8,625.4 371.3,617.4 366.9,609.8 362.7,602.7 358.9,596.6 355.5,591.6 352.3,587.5 349.1,584.3 345.8,581.9 342.2,580 338.3,578.5 334.6,577.5 331.8,576.9 330.4,576.7 330.2,576.6Z" fill="#99A901" fill-opacity="0.5"/>
<path d="M502.8,495.1 503.1,495.1 504.4,495.1 507.2,495.1 510.9,495.1 514.8,495.1 518.5,495.1 521.8,495.1 524.9,495.1 528.1,495.1 531.6,495.1 535.3,495.1 539.5,495.1 543.9,495.1 548.4,495.1 552.8,495.1 557,495.1 560.7,495.1 564.2,495.1 567.4,495.1 570.5,495.1 573.8,495.1 577.5,495.1 581.4,495.1 585.1,495.1 587.9,495.1 589.2,495.1 589.5,495.1 589.5,496.4 589.2,496.4 587.9,496.4 585.1,496.4 581.4,496.4 577.5,496.4 573.8,496.4 570.5,496.4 567.4,496.4 564.2,496.4 560.7,496.4 557,496.4 552.8,496.4 548.4,496.4 543.9,496.4 539.5,496.4 535.3,496.4 531.6,496.4 528.1,496.4 524.9,496.4 521.8,496.4 518.5,496.4 514.8,496.4 510.9,496.4 507.2,496.4 504.4,496.4 503.1,496.4 502.8,496.4Z" fill="#99A901" fill-opacity="0.5"/>
<path d="M502.8,517.6 503.1,517.6 504.4,518 507.2,518.9 510.9,520.5 514.8,522.7 518.5,525.7 521.8,529.4 524.9,534.3 528.1,540.5 531.6,548.3 535.3,557.6 539.5,568.4 543.9,580.2 548.4,592.3 552.8,604.1 557,614.9 560.7,624.3 564.2,632 567.4,638.3 570.5,643.1 573.8,646.9 577.5,649.8 581.4,652 585.1,653.6 587.9,654.5 589.2,654.9 589.5,654.9 589.5,661 589.2,661 587.9,660.6 585.1,659.7 581.4,658.1 577.5,655.9 573.8,653 570.5,649.2 567.4,644.4 564.2,638.1 560.7,630.4 557,621 552.8,610.2 548.4,598.4 543.9,586.3 539.5,574.5 535.3,563.7 531.6,554.4 528.1,546.6 524.9,540.3 521.8,535.5 518.5,531.8 514.8,528.8 510.9,526.6 507.2,525 504.4,524.1 503.1,523.7 502.8,523.7Z" fill="#99A901" fill-opacity="0.5"/>
<path d="M502.8,524 503.1,524.1 504.4,524.4 507.2,525.4 510.9,527.2 514.8,529.6 518.5,532.8 521.8,536.8 524.9,542.1 528.1,548.8 531.6,557.3 535.3,567.4 539.5,579.1 543.9,591.9 548.4,605.1 552.8,617.8 557,629.5 560.7,639.7 564.2,648.1 567.4,654.8 570.5,660.1 573.8,664.1 577.5,667.3 581.4,669.8 585.1,671.5 587.9,672.5 589.2,672.9 589.5,672.9 589.5,677.4 589.2,677.3 587.9,677 585.1,676 581.4,674.3 577.5,671.8 573.8,668.6 570.5,664.6 567.4,659.3 564.2,652.6 560.7,644.2 557,634 552.8,622.3 548.4,609.5 543.9,596.4 539.5,583.6 535.3,571.9 531.6,561.7 528.1,553.3 524.9,546.6 521.8,541.3 518.5,537.3 514.8,534.1 510.9,531.6 507.2,529.9 504.4,528.9 503.1,528.6 502.8,528.5Z" fill="#99A901" fill-opacity="0.5"/>
<path d="M502.8,528.5 503.1,528.5 504.4,528.4 507.2,528.3 510.9,528.1 514.8,527.8 518.5,527.3 521.8,526.8 524.9,526.1 528.1,525.2 531.6,524.1 535.3,522.7 539.5,521.1 543.9,519.4 548.4,517.7 552.8,516 557,514.4 560.7,513 564.2,511.9 567.4,511 570.5,510.3 573.8,509.8 577.5,509.4 581.4,509 585.1,508.8 587.9,508.7 589.2,508.6 589.5,508.6 589.5,511.8 589.2,511.8 587.9,511.9 585.1,512 581.4,512.2 577.5,512.6 573.8,513 570.5,513.5 567.4,514.2 564.2,515.1 560.7,516.3 557,517.6 552.8,519.2 548.4,520.9 543.9,522.6 539.5,524.4 535.3,525.9 531.6,527.3 528.1,528.4 524.9,529.3 521.8,530 518.5,530.5 514.8,531 510.9,531.3 507.2,531.5 504.4,531.7 503.1,531.7 502.8,531.7Z" fill="#99A901" fill-opacity="0.5"/>
<path d="M502.8,539.4 503.1,539.4 504.4,539.5 507.2,539.6 510.9,539.9 514.8,540.2 518.5,540.7 521.8,541.2 524.9,542 528.1,542.9 531.6,544.1 535.3,545.6 539.5,547.2 543.9,549.1 548.4,550.9 552.8,552.8 557,554.4 560.7,555.9 564.2,557.1 567.4,558 570.5,558.8 573.8,559.3 577.5,559.8 581.4,560.1 585.1,560.4 587.9,560.5 589.2,560.6 589.5,560.6 589.5,588.8 589.2,588.8 587.9,588.8 585.1,588.6 581.4,588.4 577.5,588 573.8,587.6 570.5,587 567.4,586.3 564.2,585.3 560.7,584.1 557,582.7 552.8,581 548.4,579.2 543.9,577.3 539.5,575.5 535.3,573.8 531.6,572.4 528.1,571.2 524.9,570.2 521.8,569.5 518.5,568.9 514.8,568.4 510.9,568.1 507.2,567.9 504.4,567.7 503.1,567.7 502.8,567.7Z" fill="#99A901" fill-opacity="0.5"/>
<path d="M502.8,592.7 503.1,592.7 504.4,592.7 507.2,592.9 510.9,593.1 514.8,593.5 518.5,593.9 521.8,594.5 524.9,595.3 528.1,596.2 531.6,597.4 535.3,598.9 539.5,600.5 543.9,602.3 548.4,604.2 552.8,606 557,607.7 560.7,609.1 564.2,610.3 567.4,611.3 570.5,612 573.8,612.6 577.5,613.1 581.4,613.4 585.1,613.7 587.9,613.8 589.2,613.9 589.5,613.9 589.5,621.6 589.2,621.6 587.9,621.5 585.1,621.4 581.4,621.1 577.5,620.8 573.8,620.3 570.5,619.7 567.4,619 564.2,618 560.7,616.8 557,615.4 552.8,613.7 548.4,611.9 543.9,610 539.5,608.2 535.3,606.6 531.6,605.1 528.1,603.9 524.9,603 521.8,602.2 518.5,601.6 514.8,601.2 510.9,600.8 507.2,600.6 504.4,600.4 503.1,600.4 502.8,600.4Z" fill="#99A901" fill-opacity="0.5"/>
<path d="M502.8,609.4 503.1,609.4 504.4,609.5 507.2,609.7 510.9,610 514.8,610.5 518.5,611.1 521.8,612 524.9,613 528.1,614.4 531.6,616.1 535.3,618.2 539.5,620.5 543.9,623.1 548.4,625.8 552.8,628.4 557,630.7 560.7,632.8 564.2,634.5 567.4,635.9 570.5,636.9 573.8,637.8 577.5,638.4 581.4,638.9 585.1,639.2 587.9,639.4 589.2,639.5 589.5,639.5 589.5,642.7 589.2,642.7 587.9,642.7 585.1,642.5 581.4,642.1 577.5,641.6 573.8,641 570.5,640.1 567.4,639.1 564.2,637.7 560.7,636 557,634 552.8,631.6 548.4,629 543.9,626.3 539.5,623.7 535.3,621.4 531.6,619.3 528.1,617.6 524.9,616.2 521.8,615.2 518.5,614.4 514.8,613.7 510.9,613.2 507.2,612.9 504.4,612.7 503.1,612.6 502.8,612.6Z" fill="#99A901" fill-opacity="0.5"/>
<path d="M502.8,621.6 503.1,621.5 504.4,621.3 507.2,620.6 510.9,619.4 514.8,617.7 518.5,615.6 521.8,612.8 524.9,609.2 528.1,604.6 531.6,598.8 535.3,591.8 539.5,583.8 543.9,575.1 548.4,566 552.8,557.3 557,549.2 560.7,542.3 564.2,536.5 567.4,531.9 570.5,528.3 573.8,525.5 577.5,523.3 581.4,521.7 585.1,520.5 587.9,519.8 589.2,519.6 589.5,519.5 589.5,524.1 589.2,524.2 587.9,524.4 585.1,525.1 581.4,526.3 577.5,527.9 573.8,530.1 570.5,532.8 567.4,536.4 564.2,540.9 560.7,546.6 557,553.5 552.8,561.4 548.4,570.1 543.9,579 539.5,587.7 535.3,595.6 531.6,602.5 528.1,608.2 524.9,612.7 521.8,616.3 518.5,619 514.8,621.2 510.9,622.8 507.2,624 504.4,624.7 503.1,624.9 502.8,625Z" fill="#99A901" fill-opacity="0.5"/>
<path d="M502.8,644 503.1,644 504.4,644.1 507.2,644.3 510.9,644.5 514.8,644.9 518.5,645.4 521.8,646.1 524.9,646.9 528.1,648 531.6,649.3 535.3,650.9 539.5,652.8 543.9,654.8 548.4,657 552.8,659 557,660.9 560.7,662.5 564.2,663.8 567.4,664.9 570.5,665.7 573.8,666.4 577.5,666.9 581.4,667.3 585.1,667.5 587.9,667.7 589.2,667.8 589.5,667.8 589.5,669.1 589.2,669 587.9,669 585.1,668.8 581.4,668.6 577.5,668.2 573.8,667.7 570.5,667 567.4,666.2 564.2,665.1 560.7,663.8 557,662.1 552.8,660.3 548.4,658.2 543.9,656.1 539.5,654.1 535.3,652.2 531.6,650.6 528.1,649.3 524.9,648.2 521.8,647.4 518.5,646.7 514.8,646.2 510.9,645.8 507.2,645.5 504.4,645.4 503.1,645.3 502.8,645.3Z" fill="#99A901" fill-opacity="0.5"/>
<path d="M502.8,650.1 503.1,650 504.4,649.7 507.2,649 510.9,647.6 514.8,645.8 518.5,643.3 521.8,640.2 524.9,636.2 528.1,631 531.6,624.5 535.3,616.7 539.5,607.7 543.9,597.9 548.4,587.7 552.8,577.9 557,568.9 560.7,561.1 564.2,554.6 567.4,549.4 570.5,545.4 573.8,542.3 577.5,539.9 581.4,538 585.1,536.7 587.9,535.9 589.2,535.6 589.5,535.6 589.5,536.8 589.2,536.9 587.9,537.2 585.1,537.9 581.4,539.3 577.5,541.1 573.8,543.6 570.5,546.7 567.4,550.7 564.2,555.9 560.7,562.4 557,570.2 552.8,579.2 548.4,589 543.9,599.2 539.5,609 535.3,618 531.6,625.8 528.1,632.3 524.9,637.5 521.8,641.5 518.5,644.6 514.8,647 510.9,648.9 507.2,650.2 504.4,651 503.1,651.3 502.8,651.3Z" fill="#99A901" fill-opacity="0.5"/>
<path d="M502.8,665.1 503.1,665 504.4,664.7 507.2,664 510.9,662.7 514.8,660.8 518.5,658.3 521.8,655.2 524.9,651.1 528.1,645.9 531.6,639.4 535.3,631.6 539.5,622.6 543.9,612.7 548.4,602.6 552.8,592.7 557,583.7 560.7,575.8 564.2,569.3 567.4,564.1 570.5,560.1 573.8,557 577.5,554.5 581.4,552.6 585.1,551.3 587.9,550.5 589.2,550.2 589.5,550.2 589.5,550.7 589.2,550.7 587.9,551 585.1,551.8 581.4,553.1 577.5,555 573.8,557.5 570.5,560.6 567.4,564.6 564.2,569.9 560.7,576.4 557,584.2 552.8,593.2 548.4,603.1 543.9,613.2 539.5,623.1 535.3,632.1 531.6,639.9 528.1,646.4 524.9,651.7 521.8,655.7 518.5,658.8 514.8,661.3 510.9,663.2 507.2,664.5 504.4,665.3 503.1,665.5 502.8,665.6Z" fill="#99A901" fill-opacity="0.5"/>
<path d="M157.6,408.5 157.8,408.5 159.2,409 162,410.1 165.7,412 169.6,414.8 173.2,418.4 176.5,423 179.7,428.9 182.9,436.5 186.3,446 190.1,457.5 194.3,470.7 198.7,485.1 203.2,500 207.6,514.4 211.7,527.6 215.5,539.1 219,548.6 222.2,556.2 225.3,562.2 228.6,566.7 232.2,570.3 236.1,573.1 239.9,575 242.6,576.1 244,576.6 244.2,576.6 244.2,582.4 244,582.4 242.6,581.9 239.9,580.8 236.1,578.9 232.2,576.1 228.6,572.5 225.3,567.9 222.2,562 219,554.4 215.5,544.9 211.7,533.4 207.6,520.2 203.2,505.8 198.7,490.9 194.3,476.5 190.1,463.3 186.3,451.8 182.9,442.3 179.7,434.7 176.5,428.7 173.2,424.2 169.6,420.6 165.7,417.8 162,415.9 159.2,414.8 157.8,414.3 157.6,414.3Z" fill="#29E191" fill-opacity="0.5"/>
<path d="M157.6,468.2 157.8,468.2 159.2,468.5 162,469.3 165.7,470.6 169.6,472.5 173.2,474.9 176.5,478 179.7,482 182.9,487.2 186.3,493.7 190.1,501.5 194.3,510.4 198.7,520.2 203.2,530.4 207.6,540.2 211.7,549.1 215.5,556.9 219,563.4 222.2,568.6 225.3,572.6 228.6,575.7 232.2,578.1 236.1,580 239.9,581.3 242.6,582.1 244,582.4 244.2,582.4 244.2,587.5 244,587.5 242.6,587.2 239.9,586.5 236.1,585.1 232.2,583.3 228.6,580.8 225.3,577.7 222.2,573.7 219,568.5 215.5,562 211.7,554.3 207.6,545.3 203.2,535.5 198.7,525.4 194.3,515.6 190.1,506.6 186.3,498.8 182.9,492.3 179.7,487.2 176.5,483.1 173.2,480 169.6,477.6 165.7,475.7 162,474.4 159.2,473.6 157.8,473.3 157.6,473.3Z" fill="#29E191" fill-opacity="0.5"/>
<path d="M157.6,614.5 157.8,614.5 159.2,614.4 162,614.2 165.7,613.9 169.6,613.5 173.2,612.9 176.5,612.2 179.7,611.2 182.9,610 186.3,608.5 190.1,606.7 194.3,604.5 198.7,602.2 203.2,599.8 207.6,597.5 211.7,595.4 215.5,593.6 219,592 222.2,590.8 225.3,589.9 228.6,589.1 232.2,588.6 236.1,588.1 239.9,587.8 242.6,587.6 244,587.6 244.2,587.5 244.2,620.3 244,620.3 242.6,620.4 239.9,620.5 236.1,620.8 232.2,621.3 228.6,621.9 225.3,622.6 222.2,623.5 219,624.8 215.5,626.3 211.7,628.1 207.6,630.2 203.2,632.6 198.7,635 194.3,637.3 190.1,639.4 186.3,641.2 182.9,642.7 179.7,644 176.5,644.9 173.2,645.6 169.6,646.2 165.7,646.7 162,647 159.2,647.2 157.8,647.2 157.6,647.2Z" fill="#29E191" fill-opacity="0.5"/>
<path d="M330.2,576.6 330.4,576.6 331.8,576.4 334.6,576 338.3,575.2 342.2,574 345.8,572.5 349.1,570.6 352.3,568.2 355.5,565 358.9,561 362.7,556.3 366.9,550.8 371.3,544.8 375.8,538.6 380.2,532.6 384.3,527.1 388.1,522.3 391.6,518.3 394.8,515.2 397.9,512.7 401.2,510.8 404.8,509.3 408.7,508.2 412.5,507.3 415.3,506.9 416.6,506.7 416.8,506.7 416.8,516.9 416.6,517 415.3,517.2 412.5,517.6 408.7,518.4 404.8,519.6 401.2,521.1 397.9,523 394.8,525.4 391.6,528.6 388.1,532.6 384.3,537.3 380.2,542.8 375.8,548.8 371.3,555 366.9,561 362.7,566.5 358.9,571.3 355.5,575.2 352.3,578.4 349.1,580.9 345.8,582.8 342.2,584.3 338.3,585.4 334.6,586.2 331.8,586.7 330.4,586.9 330.2,586.9Z" fill="#29E191" fill-opacity="0.5"/>
<path d="M330.2,586.9 330.4,586.9 331.8,586.9 334.6,586.8 338.3,586.7 342.2,586.6 345.8,586.4 349.1,586.1 352.3,585.8 355.5,585.4 358.9,584.9 362.7,584.3 366.9,583.6 371.3,582.8 375.8,582 380.2,581.2 384.3,580.5 388.1,579.9 391.6,579.4 394.8,579 397.9,578.7 401.2,578.4 404.8,578.3 408.7,578.1 412.5,578 415.3,577.9 416.6,577.9 416.8,577.9 416.8,603.6 416.6,603.6 415.3,603.6 412.5,603.7 408.7,603.8 404.8,603.9 401.2,604.1 397.9,604.4 394.8,604.7 391.6,605.1 388.1,605.6 384.3,606.2 380.2,606.9 375.8,607.7 371.3,608.5 366.9,609.3 362.7,610 358.9,610.6 355.5,611.1 352.3,611.5 349.1,611.8 345.8,612 342.2,612.2 338.3,612.4 334.6,612.5 331.8,612.6 330.4,612.6 330.2,612.6Z" fill="#29E191" fill-opacity="0.5"/>
<path d="M330.2,612.6 330.4,612.6 331.8,612.6 334.6,612.8 338.3,613 342.2,613.3 345.8,613.8 349.1,614.3 352.3,615 355.5,615.9 358.9,617.1 362.7,618.5 366.9,620.1 371.3,621.8 375.8,623.6 380.2,625.3 384.3,626.9 388.1,628.3 391.6,629.4 394.8,630.3 397.9,631.1 401.2,631.6 404.8,632 408.7,632.4 412.5,632.6 415.3,632.7 416.6,632.8 416.8,632.8 416.8,637.9 416.6,637.9 415.3,637.9 412.5,637.7 408.7,637.5 404.8,637.2 401.2,636.7 397.9,636.2 394.8,635.5 391.6,634.6 388.1,633.4 384.3,632 380.2,630.5 375.8,628.7 371.3,626.9 366.9,625.2 362.7,623.6 358.9,622.2 355.5,621.1 352.3,620.2 349.1,619.5 345.8,618.9 342.2,618.5 338.3,618.1 334.6,617.9 331.8,617.8 330.4,617.7 330.2,617.7Z" fill="#29E191" fill-opacity="0.5"/>
<path d="M330.2,617.7 330.4,617.7 331.8,617.8 334.6,618 338.3,618.4 342.2,619 345.8,619.7 349.1,620.6 352.3,621.8 355.5,623.3 358.9,625.2 362.7,627.5 366.9,630.2 371.3,633.1 375.8,636.1 380.2,638.9 384.3,641.6 388.1,643.9 391.6,645.8 394.8,647.3 397.9,648.5 401.2,649.4 404.8,650.1 408.7,650.7 412.5,651.1 415.3,651.3 416.6,651.4 416.8,651.4 416.8,654 416.6,654 415.3,653.9 412.5,653.6 408.7,653.2 404.8,652.7 401.2,652 397.9,651 394.8,649.8 391.6,648.3 388.1,646.3 384.3,644 380.2,641.3 375.8,638.3 371.3,635.3 366.9,632.3 362.7,629.6 358.9,627.3 355.5,625.4 352.3,623.8 349.1,622.6 345.8,621.7 342.2,620.9 338.3,620.4 334.6,620 331.8,619.7 330.4,619.7 330.2,619.6Z" fill="#29E191" fill-opacity="0.5"/>
<path d="M330.2,619.6 330.4,619.7 331.8,619.8 334.6,620.1 338.3,620.6 342.2,621.4 345.8,622.4 349.1,623.6 352.3,625.3 355.5,627.4 358.9,630 362.7,633.2 366.9,636.8 371.3,640.8 375.8,645 380.2,649 384.3,652.6 388.1,655.8 391.6,658.4 394.8,660.5 397.9,662.2 401.2,663.4 404.8,664.4 408.7,665.2 412.5,665.7 415.3,666 416.6,666.2 416.8,666.2 416.8,667.5 416.6,667.4 415.3,667.3 412.5,667 408.7,666.5 404.8,665.7 401.2,664.7 397.9,663.4 394.8,661.7 391.6,659.6 388.1,656.9 384.3,653.7 380.2,650 375.8,646 371.3,641.8 366.9,637.7 362.7,634 358.9,630.8 355.5,628.1 352.3,626 349.1,624.3 345.8,623.1 342.2,622 338.3,621.3 334.6,620.7 331.8,620.4 330.4,620.3 330.2,620.3Z" fill="#29E191" fill-opacity="0.5"/>
<path d="M502.8,493.2 503.1,493.2 504.4,493.2 507.2,493.2 510.9,493.2 514.8,493.2 518.5,493.2 521.8,493.2 524.9,493.2 528.1,493.2 531.6,493.2 535.3,493.2 539.5,493.2 543.9,493.2 548.4,493.2 552.8,493.2 557,493.2 560.7,493.2 564.2,493.2 567.4,493.2 570.5,493.2 573.8,493.2 577.5,493.2 581.4,493.2 585.1,493.2 587.9,493.2 589.2,493.2 589.5,493.2 589.5,493.8 589.2,493.8 587.9,493.8 585.1,493.8 581.4,493.8 577.5,493.8 573.8,493.8 570.5,493.8 567.4,493.8 564.2,493.8 560.7,493.8 557,493.8 552.8,493.8 548.4,493.8 543.9,493.8 539.5,493.8 535.3,493.8 531.6,493.8 528.1,493.8 524.9,493.8 521.8,493.8 518.5,493.8 514.8,493.8 510.9,493.8 507.2,493.8 504.4,493.8 503.1,493.8 502.8,493.8Z" fill="#29E191" fill-opacity="0.5"/>
<path d="M502.8,496.4 503.1,496.4 504.4,496.4 507.2,496.4 510.9,496.4 514.8,496.4 518.5,496.4 521.8,496.4 524.9,496.4 528.1,496.4 531.6,496.4 535.3,496.4 539.5,496.4 543.9,496.4 548.4,496.4 552.8,496.4 557,496.4 560.7,496.4 564.2,496.4 567.4,496.4 570.5,496.4 573.8,496.4 577.5,496.4 581.4,496.4 585.1,496.4 587.9,496.4 589.2,496.4 589.5,496.4 589.5,498.5 589.2,498.5 587.9,498.5 585.1,498.5 581.4,498.5 577.5,498.5 573.8,498.5 570.5,498.5 567.4,498.5 564.2,498.5 560.7,498.5 557,498.5 552.8,498.5 548.4,498.5 543.9,498.5 539.5,498.5 535.3,498.5 531.6,498.5 528.1,498.5 524.9,498.5 521.8,498.5 518.5,498.5 514.8,498.5 510.9,498.5 507.2,498.5 504.4,498.5 503.1,498.5 502.8,498.5Z" fill="#29E191" fill-opacity="0.5"/>
<path d="M502.8,509.2 503.1,509.3 504.4,509.6 507.2,510.4 510.9,511.8 514.8,513.8 518.5,516.4 521.8,519.7 524.9,524 528.1,529.6 531.6,536.5 535.3,544.8 539.5,554.3 543.9,564.8 548.4,575.6 552.8,586.1 557,595.7 560.7,604 564.2,610.9 567.4,616.4 570.5,620.7 573.8,624 577.5,626.6 581.4,628.6 585.1,630 587.9,630.8 589.2,631.1 589.5,631.2 589.5,639.5 589.2,639.5 587.9,639.2 585.1,638.4 581.4,637 577.5,635 573.8,632.4 570.5,629 567.4,624.7 564.2,619.2 560.7,612.3 557,604 552.8,594.4 548.4,584 543.9,573.2 539.5,562.7 535.3,553.1 531.6,544.8 528.1,537.9 524.9,532.4 521.8,528.1 518.5,524.8 514.8,522.2 510.9,520.2 507.2,518.8 504.4,517.9 503.1,517.6 502.8,517.6Z" fill="#29E191" fill-opacity="0.5"/>
<path d="M502.8,531.7 503.1,531.7 504.4,531.7 507.2,531.5 510.9,531.3 514.8,531 518.5,530.5 521.8,530 524.9,529.3 528.1,528.4 531.6,527.3 535.3,525.9 539.5,524.4 543.9,522.6 548.4,520.9 552.8,519.2 557,517.6 560.7,516.3 564.2,515.1 567.4,514.2 570.5,513.5 573.8,513 577.5,512.6 581.4,512.2 585.1,512 587.9,511.9 589.2,511.8 589.5,511.8 589.5,515 589.2,515 587.9,515.1 585.1,515.2 581.4,515.4 577.5,515.8 573.8,516.2 570.5,516.7 567.4,517.4 564.2,518.3 560.7,519.5 557,520.8 552.8,522.4 548.4,524.1 543.9,525.9 539.5,527.6 535.3,529.1 531.6,530.5 528.1,531.6 524.9,532.5 521.8,533.2 518.5,533.8 514.8,534.2 510.9,534.5 507.2,534.7 504.4,534.9 503.1,534.9 502.8,534.9Z" fill="#29E191" fill-opacity="0.5"/>
<path d="M502.8,567.7 503.1,567.7 504.4,567.7 507.2,567.9 510.9,568.1 514.8,568.4 518.5,568.9 521.8,569.5 524.9,570.2 528.1,571.2 531.6,572.4 535.3,573.8 539.5,575.5 543.9,577.3 548.4,579.2 552.8,581 557,582.7 560.7,584.1 564.2,585.3 567.4,586.3 570.5,587 573.8,587.6 577.5,588 581.4,588.4 585.1,588.6 587.9,588.8 589.2,588.8 589.5,588.8 589.5,603 589.2,602.9 587.9,602.9 585.1,602.7 581.4,602.5 577.5,602.2 573.8,601.7 570.5,601.1 567.4,600.4 564.2,599.4 560.7,598.2 557,596.8 552.8,595.1 548.4,593.3 543.9,591.4 539.5,589.6 535.3,587.9 531.6,586.5 528.1,585.3 524.9,584.3 521.8,583.6 518.5,583 514.8,582.6 510.9,582.2 507.2,582 504.4,581.8 503.1,581.8 502.8,581.8Z" fill="#29E191" fill-opacity="0.5"/>
<path d="M502.8,600.4 503.1,600.4 504.4,600.4 507.2,600.6 510.9,600.8 514.8,601.2 518.5,601.6 521.8,602.2 524.9,603 528.1,603.9 531.6,605.1 535.3,606.6 539.5,608.2 543.9,610 548.4,611.9 552.8,613.7 557,615.4 560.7,616.8 564.2,618 567.4,619 570.5,619.7 573.8,620.3 577.5,620.8 581.4,621.1 585.1,621.4 587.9,621.5 589.2,621.6 589.5,621.6 589.5,626.7 589.2,626.7 587.9,626.6 585.1,626.5 581.4,626.3 577.5,625.9 573.8,625.5 570.5,624.9 567.4,624.1 564.2,623.2 560.7,622 557,620.5 552.8,618.9 548.4,617 543.9,615.2 539.5,613.4 535.3,611.7 531.6,610.2 528.1,609 524.9,608.1 521.8,607.3 518.5,606.8 514.8,606.3 510.9,606 507.2,605.7 504.4,605.6 503.1,605.5 502.8,605.5Z" fill="#29E191" fill-opacity="0.5"/>
<path d="M502.8,612.6 503.1,612.6 504.4,612.7 507.2,612.9 510.9,613.2 514.8,613.7 518.5,614.4 521.8,615.2 524.9,616.2 528.1,617.6 531.6,619.3 535.3,621.4 539.5,623.7 543.9,626.3 548.4,629 552.8,631.6 557,634 560.7,636 564.2,637.7 567.4,639.1 570.5,640.1 573.8,641 577.5,641.6 581.4,642.1 585.1,642.5 587.9,642.7 589.2,642.7 589.5,642.7 589.5,645.6 589.2,645.6 587.9,645.5 585.1,645.3 581.4,645 577.5,644.5 573.8,643.9 570.5,643 567.4,642 564.2,640.6 560.7,638.9 557,636.8 552.8,634.5 548.4,631.9 543.9,629.2 539.5,626.6 535.3,624.3 531.6,622.2 528.1,620.5 524.9,619.1 521.8,618.1 518.5,617.2 514.8,616.6 510.9,616.1 507.2,615.8 504.4,615.6 503.1,615.5 502.8,615.5Z" fill="#29E191" fill-opacity="0.5"/>
<path d="M502.8,625 503.1,624.9 504.4,624.7 507.2,624 510.9,622.8 514.8,621.2 518.5,619 521.8,616.3 524.9,612.7 528.1,608.2 531.6,602.5 535.3,595.6 539.5,587.7 543.9,579 548.4,570.1 552.8,561.4 557,553.5 560.7,546.6 564.2,540.9 567.4,536.4 570.5,532.8 573.8,530.1 577.5,527.9 581.4,526.3 585.1,525.1 587.9,524.4 589.2,524.2 589.5,524.1 589.5,527.3 589.2,527.4 587.9,527.6 585.1,528.3 581.4,529.5 577.5,531.2 573.8,533.3 570.5,536.1 567.4,539.7 564.2,544.3 560.7,550.1 557,557 552.8,565 548.4,573.8 543.9,582.8 539.5,591.5 535.3,599.5 531.6,606.5 528.1,612.2 524.9,616.8 521.8,620.4 518.5,623.2 514.8,625.4 510.9,627 507.2,628.2 504.4,628.9 503.1,629.2 502.8,629.2Z" fill="#29E191" fill-opacity="0.5"/>
<path d="M502.8,640.8 503.1,640.8 504.4,640.9 507.2,640.9 510.9,641.1 514.8,641.3 518.5,641.5 521.8,641.8 524.9,642.2 528.1,642.7 531.6,643.4 535.3,644.2 539.5,645.1 543.9,646.1 548.4,647.1 552.8,648.1 557,649 560.7,649.8 564.2,650.4 567.4,651 570.5,651.4 573.8,651.7 577.5,651.9 581.4,652.1 585.1,652.3 587.9,652.3 589.2,652.4 589.5,652.4 589.5,653.3 589.2,653.3 587.9,653.3 585.1,653.2 581.4,653.1 577.5,652.9 573.8,652.7 570.5,652.3 567.4,651.9 564.2,651.4 560.7,650.8 557,650 552.8,649.1 548.4,648.1 543.9,647 539.5,646.1 535.3,645.1 531.6,644.4 528.1,643.7 524.9,643.2 521.8,642.8 518.5,642.5 514.8,642.2 510.9,642 507.2,641.9 504.4,641.8 503.1,641.8 502.8,641.8Z" fill="#29E191" fill-opacity="0.5"/>
<path d="M502.8,645.3 503.1,645.3 504.4,645.4 507.2,645.5 510.9,645.8 514.8,646.2 518.5,646.7 521.8,647.4 524.9,648.2 528.1,649.3 531.6,650.6 535.3,652.2 539.5,654.1 543.9,656.1 548.4,658.2 552.8,660.3 557,662.1 560.7,663.8 564.2,665.1 567.4,666.2 570.5,667 573.8,667.7 577.5,668.2 581.4,668.6 585.1,668.8 587.9,669 589.2,669 589.5,669.1 589.5,671 589.2,671 587.9,670.9 585.1,670.8 581.4,670.5 577.5,670.1 573.8,669.6 570.5,668.9 567.4,668.1 564.2,667 560.7,665.7 557,664.1 552.8,662.2 548.4,660.2 543.9,658.1 539.5,656 535.3,654.2 531.6,652.5 528.1,651.2 524.9,650.1 521.8,649.3 518.5,648.6 514.8,648.1 510.9,647.7 507.2,647.5 504.4,647.3 503.1,647.2 502.8,647.2Z" fill="#29E191" fill-opacity="0.5"/>
<path d="M502.8,651.3 503.1,651.3 504.4,651 507.2,650.2 510.9,648.9 514.8,647 518.5,644.6 521.8,641.5 524.9,637.5 528.1,632.3 531.6,625.8 535.3,618 539.5,609 543.9,599.2 548.4,589 552.8,579.2 557,570.2 560.7,562.4 564.2,555.9 567.4,550.7 570.5,546.7 573.8,543.6 577.5,541.1 581.4,539.3 585.1,537.9 587.9,537.2 589.2,536.9 589.5,536.8 589.5,539 589.2,539 587.9,539.3 585.1,540.1 581.4,541.4 577.5,543.3 573.8,545.7 570.5,548.8 567.4,552.9 564.2,558 560.7,564.5 557,572.3 552.8,581.3 548.4,591.1 543.9,601.3 539.5,611.1 535.3,620.1 531.6,627.9 528.1,634.4 524.9,639.6 521.8,643.6 518.5,646.7 514.8,649.2 510.9,651 507.2,652.4 504.4,653.1 503.1,653.4 502.8,653.5Z" fill="#29E191" fill-opacity="0.5"/>
<path d="M502.8,665.6 503.1,665.5 504.4,665.3 507.2,664.5 510.9,663.2 514.8,661.3 518.5,658.8 521.8,655.7 524.9,651.7 528.1,646.4 531.6,639.9 535.3,632.1 539.5,623.1 543.9,613.2 548.4,603.1 552.8,593.2 557,584.2 560.7,576.4 564.2,569.9 567.4,564.6 570.5,560.6 573.8,557.5 577.5,555 581.4,553.1 585.1,551.8 587.9,551 589.2,550.7 589.5,550.7 589.5,552.2 589.2,552.3 587.9,552.6 585.1,553.3 581.4,554.7 577.5,556.5 573.8,559 570.5,562.1 567.4,566.2 564.2,571.4 560.7,577.8 557,585.6 552.8,594.6 548.4,604.5 543.9,614.6 539.5,624.5 535.3,633.5 531.6,641.3 528.1,647.8 524.9,653 521.8,657 518.5,660.1 514.8,662.6 510.9,664.5 507.2,665.8 504.4,666.5 503.1,666.8 502.8,666.9Z" fill="#29E191" fill-opacity="0.5"/>
<path d="M502.8,672.9 503.1,672.9 504.4,672.9 507.2,672.8 510.9,672.7 514.8,672.5 518.5,672.3 521.8,672 524.9,671.7 528.1,671.2 531.6,670.6 535.3,669.9 539.5,669.1 543.9,668.2 548.4,667.3 552.8,666.4 557,665.6 560.7,664.9 564.2,664.4 567.4,663.9 570.5,663.5 573.8,663.2 577.5,663 581.4,662.9 585.1,662.7 587.9,662.7 589.2,662.6 589.5,662.6 589.5,663.3 589.2,663.3 587.9,663.3 585.1,663.4 581.4,663.5 577.5,663.7 573.8,663.9 570.5,664.2 567.4,664.5 564.2,665 560.7,665.6 557,666.3 552.8,667.1 548.4,668 543.9,668.9 539.5,669.8 535.3,670.6 531.6,671.3 528.1,671.8 524.9,672.3 521.8,672.7 518.5,672.9 514.8,673.2 510.9,673.3 507.2,673.5 504.4,673.5 503.1,673.5 502.8,673.5Z" fill="#29E191" fill-opacity="0.5"/>
<path d="M157.6,414.3 157.8,414.3 159.2,414.9 162,416.2 165.7,418.6 169.6,422 173.2,426.4 176.5,432 179.7,439.2 182.9,448.6 186.3,460.3 190.1,474.3 194.3,490.5 198.7,508.2 203.2,526.4 207.6,544.1 211.7,560.3 215.5,574.3 219,585.9 222.2,595.3 225.3,602.5 228.6,608.2 232.2,612.6 236.1,615.9 239.9,618.3 242.6,619.7 244,620.2 244.2,620.3 244.2,629.3 244,629.2 242.6,628.7 239.9,627.3 236.1,624.9 232.2,621.5 228.6,617.1 225.3,611.5 222.2,604.3 219,594.9 215.5,583.3 211.7,569.2 207.6,553.1 203.2,535.4 198.7,517.1 194.3,499.4 190.1,483.3 186.3,469.2 182.9,457.6 179.7,448.2 176.5,441 173.2,435.4 169.6,431 165.7,427.6 162,425.2 159.2,423.8 157.8,423.3 157.6,423.2Z" fill="#21C9F1" fill-opacity="0.5"/>
<path d="M157.6,473.3 157.8,473.4 159.2,473.8 162,474.8 165.7,476.6 169.6,479.2 173.2,482.5 176.5,486.7 179.7,492.2 182.9,499.3 186.3,508.1 190.1,518.7 194.3,531 198.7,544.4 203.2,558.2 207.6,571.6 211.7,583.8 215.5,594.4 219,603.3 222.2,610.3 225.3,615.8 228.6,620.1 232.2,623.4 236.1,626 239.9,627.8 242.6,628.8 244,629.2 244.2,629.3 244.2,631.8 244,631.8 242.6,631.4 239.9,630.3 236.1,628.5 232.2,626 228.6,622.7 225.3,618.4 222.2,612.9 219,605.8 215.5,597 211.7,586.4 207.6,574.2 203.2,560.8 198.7,546.9 194.3,533.6 190.1,521.3 186.3,510.7 182.9,501.9 179.7,494.8 176.5,489.3 173.2,485 169.6,481.7 165.7,479.2 162,477.4 159.2,476.3 157.8,475.9 157.6,475.9Z" fill="#21C9F1" fill-opacity="0.5"/>
<path d="M157.6,647.2 157.8,647.2 159.2,647.2 162,647.1 165.7,646.9 169.6,646.7 173.2,646.3 176.5,645.9 179.7,645.4 182.9,644.7 186.3,643.8 190.1,642.7 194.3,641.5 198.7,640.2 203.2,638.9 207.6,637.5 211.7,636.3 215.5,635.3 219,634.4 222.2,633.7 225.3,633.2 228.6,632.7 232.2,632.4 236.1,632.2 239.9,632 242.6,631.9 244,631.8 244.2,631.8 244.2,638.9 244,638.9 242.6,638.9 239.9,639 236.1,639.2 232.2,639.5 228.6,639.8 225.3,640.2 222.2,640.8 219,641.5 215.5,642.3 211.7,643.4 207.6,644.6 203.2,645.9 198.7,647.3 194.3,648.6 190.1,649.8 186.3,650.9 182.9,651.7 179.7,652.4 176.5,653 173.2,653.4 169.6,653.7 165.7,654 162,654.1 159.2,654.3 157.8,654.3 157.6,654.3Z" fill="#21C9F1" fill-opacity="0.5"/>
<path d="M330.2,620.3 330.4,620.2 331.8,620 334.6,619.3 338.3,618.1 342.2,616.4 345.8,614.2 349.1,611.4 352.3,607.7 355.5,603.1 358.9,597.2 362.7,590.2 366.9,582.1 371.3,573.2 375.8,564 380.2,555.2 384.3,547.1 388.1,540 391.6,534.2 394.8,529.5 397.9,525.8 401.2,523 404.8,520.8 408.7,519.1 412.5,517.9 415.3,517.3 416.6,517 416.8,516.9 416.8,522.1 416.6,522.1 415.3,522.4 412.5,523.1 408.7,524.3 404.8,525.9 401.2,528.1 397.9,530.9 394.8,534.5 391.6,539.2 388.1,545 384.3,552 380.2,560.1 375.8,568.9 371.3,578 366.9,586.8 362.7,594.9 358.9,601.8 355.5,607.7 352.3,612.3 349.1,615.9 345.8,618.7 342.2,620.9 338.3,622.6 334.6,623.8 331.8,624.5 330.4,624.7 330.2,624.8Z" fill="#21C9F1" fill-opacity="0.5"/>
<path d="M330.2,624.8 330.4,624.8 331.8,624.7 334.6,624.6 338.3,624.3 342.2,624 345.8,623.5 349.1,622.9 352.3,622.2 355.5,621.2 358.9,620 362.7,618.6 366.9,616.9 371.3,615.1 375.8,613.2 380.2,611.4 384.3,609.8 388.1,608.3 391.6,607.1 394.8,606.2 397.9,605.4 401.2,604.8 404.8,604.4 408.7,604 412.5,603.8 415.3,603.7 416.6,603.6 416.8,603.6 416.8,608.1 416.6,608.1 415.3,608.1 412.5,608.3 408.7,608.5 404.8,608.9 401.2,609.3 397.9,609.9 394.8,610.7 391.6,611.6 388.1,612.8 384.3,614.3 380.2,615.9 375.8,617.7 371.3,619.6 366.9,621.4 362.7,623.1 358.9,624.5 355.5,625.7 352.3,626.7 349.1,627.4 345.8,628 342.2,628.5 338.3,628.8 334.6,629.1 331.8,629.2 330.4,629.3 330.2,629.3Z" fill="#21C9F1" fill-opacity="0.5"/>
<path d="M330.2,629.3 330.4,629.3 331.8,629.3 334.6,629.3 338.3,629.4 342.2,629.6 345.8,629.8 349.1,630 352.3,630.3 355.5,630.7 358.9,631.2 362.7,631.8 366.9,632.5 371.3,633.2 375.8,634 380.2,634.7 384.3,635.4 388.1,636 391.6,636.5 394.8,636.9 397.9,637.2 401.2,637.4 404.8,637.6 408.7,637.7 412.5,637.8 415.3,637.9 416.6,637.9 416.8,637.9 416.8,643.1 416.6,643.1 415.3,643 412.5,643 408.7,642.9 404.8,642.7 401.2,642.6 397.9,642.3 394.8,642 391.6,641.6 388.1,641.1 384.3,640.5 380.2,639.9 375.8,639.1 371.3,638.3 366.9,637.6 362.7,636.9 358.9,636.3 355.5,635.8 352.3,635.5 349.1,635.1 345.8,634.9 342.2,634.7 338.3,634.6 334.6,634.5 331.8,634.4 330.4,634.4 330.2,634.4Z" fill="#21C9F1" fill-opacity="0.5"/>
<path d="M330.2,634.4 330.4,634.4 331.8,634.5 334.6,634.6 338.3,634.8 342.2,635.1 345.8,635.6 349.1,636.1 352.3,636.8 355.5,637.7 358.9,638.8 362.7,640.1 366.9,641.6 371.3,643.3 375.8,645.1 380.2,646.7 384.3,648.3 388.1,649.6 391.6,650.7 394.8,651.6 397.9,652.3 401.2,652.8 404.8,653.2 408.7,653.6 412.5,653.8 415.3,653.9 416.6,654 416.8,654 416.8,658.1 416.6,658.1 415.3,658.1 412.5,657.9 408.7,657.7 404.8,657.4 401.2,656.9 397.9,656.4 394.8,655.7 391.6,654.7 388.1,653.6 384.3,652.2 380.2,650.6 375.8,648.8 371.3,647 366.9,645.2 362.7,643.6 358.9,642.2 355.5,641 352.3,640.1 349.1,639.4 345.8,638.8 342.2,638.4 338.3,638 334.6,637.8 331.8,637.7 330.4,637.6 330.2,637.6Z" fill="#21C9F1" fill-opacity="0.5"/>
<path d="M330.2,637.6 330.4,637.6 331.8,637.7 334.6,637.9 338.3,638.2 342.2,638.7 345.8,639.4 349.1,640.2 352.3,641.2 355.5,642.6 358.9,644.3 362.7,646.3 366.9,648.6 371.3,651.2 375.8,653.9 380.2,656.4 384.3,658.8 388.1,660.8 391.6,662.5 394.8,663.8 397.9,664.9 401.2,665.7 404.8,666.3 408.7,666.8 412.5,667.2 415.3,667.4 416.6,667.4 416.8,667.5 416.8,669.1 416.6,669 415.3,669 412.5,668.8 408.7,668.4 404.8,667.9 401.2,667.3 397.9,666.5 394.8,665.4 391.6,664 388.1,662.3 384.3,660.3 380.2,657.9 375.8,655.3 371.3,652.6 366.9,650 362.7,647.7 358.9,645.6 355.5,643.9 352.3,642.6 349.1,641.5 345.8,640.7 342.2,640 338.3,639.5 334.6,639.2 331.8,639 330.4,638.9 330.2,638.9Z" fill="#21C9F1" fill-opacity="0.5"/>
<path d="M502.8,493.8 503.1,493.8 504.4,493.8 507.2,493.8 510.9,493.8 514.8,493.8 518.5,493.8 521.8,493.8 524.9,493.8 528.1,493.8 531.6,493.8 535.3,493.8 539.5,493.8 543.9,493.8 548.4,493.8 552.8,493.8 557,493.8 560.7,493.8 564.2,493.8 567.4,493.8 570.5,493.8 573.8,493.8 577.5,493.8 581.4,493.8 585.1,493.8 587.9,493.8 589.2,493.8 589.5,493.8 589.5,495.1 589.2,495.1 587.9,495.1 585.1,495.1 581.4,495.1 577.5,495.1 573.8,495.1 570.5,495.1 567.4,495.1 564.2,495.1 560.7,495.1 557,495.1 552.8,495.1 548.4,495.1 543.9,495.1 539.5,495.1 535.3,495.1 531.6,495.1 528.1,495.1 524.9,495.1 521.8,495.1 518.5,495.1 514.8,495.1 510.9,495.1 507.2,495.1 504.4,495.1 503.1,495.1 502.8,495.1Z" fill="#21C9F1" fill-opacity="0.5"/>
<path d="M502.8,498.5 503.1,498.5 504.4,498.5 507.2,498.5 510.9,498.5 514.8,498.5 518.5,498.5 521.8,498.5 524.9,498.5 528.1,498.5 531.6,498.5 535.3,498.5 539.5,498.5 543.9,498.5 548.4,498.5 552.8,498.5 557,498.5 560.7,498.5 564.2,498.5 567.4,498.5 570.5,498.5 573.8,498.5 577.5,498.5 581.4,498.5 585.1,498.5 587.9,498.5 589.2,498.5 589.5,498.5 589.5,502.8 589.2,502.8 587.9,502.8 585.1,502.8 581.4,502.8 577.5,502.8 573.8,502.8 570.5,502.8 567.4,502.8 564.2,502.8 560.7,502.8 557,502.8 552.8,502.8 548.4,502.8 543.9,502.8 539.5,502.8 535.3,502.8 531.6,502.8 528.1,502.8 524.9,502.8 521.8,502.8 518.5,502.8 514.8,502.8 510.9,502.8 507.2,502.8 504.4,502.8 503.1,502.8 502.8,502.8Z" fill="#21C9F1" fill-opacity="0.5"/>
<path d="M502.8,581.8 503.1,581.8 504.4,581.8 507.2,582 510.9,582.2 514.8,582.6 518.5,583 521.8,583.6 524.9,584.3 528.1,585.3 531.6,586.5 535.3,587.9 539.5,589.6 543.9,591.4 548.4,593.3 552.8,595.1 557,596.8 560.7,598.2 564.2,599.4 567.4,600.4 570.5,601.1 573.8,601.7 577.5,602.2 581.4,602.5 585.1,602.7 587.9,602.9 589.2,602.9 589.5,603 589.5,604.9 589.2,604.9 587.9,604.8 585.1,604.7 581.4,604.4 577.5,604.1 573.8,603.6 570.5,603.1 567.4,602.3 564.2,601.3 560.7,600.1 557,598.7 552.8,597 548.4,595.2 543.9,593.3 539.5,591.5 535.3,589.9 531.6,588.4 528.1,587.2 524.9,586.3 521.8,585.5 518.5,584.9 514.8,584.5 510.9,584.1 507.2,583.9 504.4,583.8 503.1,583.7 502.8,583.7Z" fill="#21C9F1" fill-opacity="0.5"/>
<path d="M502.8,605.5 503.1,605.5 504.4,605.6 507.2,605.7 510.9,606 514.8,606.3 518.5,606.8 521.8,607.3 524.9,608.1 528.1,609 531.6,610.2 535.3,611.7 539.5,613.4 543.9,615.2 548.4,617 552.8,618.9 557,620.5 560.7,622 564.2,623.2 567.4,624.1 570.5,624.9 573.8,625.5 577.5,625.9 581.4,626.3 585.1,626.5 587.9,626.6 589.2,626.7 589.5,626.7 589.5,628.6 589.2,628.6 587.9,628.6 585.1,628.4 581.4,628.2 577.5,627.8 573.8,627.4 570.5,626.8 567.4,626.1 564.2,625.1 560.7,623.9 557,622.5 552.8,620.8 548.4,619 543.9,617.1 539.5,615.3 535.3,613.6 531.6,612.2 528.1,611 524.9,610 521.8,609.3 518.5,608.7 514.8,608.2 510.9,607.9 507.2,607.6 504.4,607.5 503.1,607.5 502.8,607.4Z" fill="#21C9F1" fill-opacity="0.5"/>
<path d="M502.8,629.2 503.1,629.2 504.4,628.9 507.2,628.2 510.9,627 514.8,625.4 518.5,623.2 521.8,620.4 524.9,616.8 528.1,612.2 531.6,606.5 535.3,599.5 539.5,591.5 543.9,582.8 548.4,573.8 552.8,565 557,557 560.7,550.1 564.2,544.3 567.4,539.7 570.5,536.1 573.8,533.3 577.5,531.2 581.4,529.5 585.1,528.3 587.9,527.6 589.2,527.4 589.5,527.3 589.5,530.4 589.2,530.5 587.9,530.7 585.1,531.4 581.4,532.6 577.5,534.2 573.8,536.4 570.5,539.2 567.4,542.8 564.2,547.4 560.7,553.1 557,560.1 552.8,568.1 548.4,576.8 543.9,585.8 539.5,594.5 535.3,602.5 531.6,609.4 528.1,615.2 524.9,619.8 521.8,623.4 518.5,626.2 514.8,628.3 510.9,630 507.2,631.2 504.4,631.9 503.1,632.1 502.8,632.2Z" fill="#21C9F1" fill-opacity="0.5"/>
<path d="M502.8,641.8 503.1,641.8 504.4,641.8 507.2,641.9 510.9,642 514.8,642.2 518.5,642.5 521.8,642.8 524.9,643.2 528.1,643.7 531.6,644.4 535.3,645.1 539.5,646.1 543.9,647 548.4,648.1 552.8,649.1 557,650 560.7,650.8 564.2,651.4 567.4,651.9 570.5,652.3 573.8,652.7 577.5,652.9 581.4,653.1 585.1,653.2 587.9,653.3 589.2,653.3 589.5,653.3 589.5,654 589.2,654 587.9,653.9 585.1,653.9 581.4,653.7 577.5,653.5 573.8,653.3 570.5,653 567.4,652.6 564.2,652 560.7,651.4 557,650.6 552.8,649.7 548.4,648.7 543.9,647.7 539.5,646.7 535.3,645.8 531.6,645 528.1,644.3 524.9,643.8 521.8,643.4 518.5,643.1 514.8,642.9 510.9,642.7 507.2,642.5 504.4,642.5 503.1,642.4 502.8,642.4Z" fill="#21C9F1" fill-opacity="0.5"/>
<path d="M502.8,647.2 503.1,647.2 504.4,647.3 507.2,647.5 510.9,647.7 514.8,648.1 518.5,648.6 521.8,649.3 524.9,650.1 528.1,651.2 531.6,652.5 535.3,654.2 539.5,656 543.9,658.1 548.4,660.2 552.8,662.2 557,664.1 560.7,665.7 564.2,667 567.4,668.1 570.5,668.9 573.8,669.6 577.5,670.1 581.4,670.5 585.1,670.8 587.9,670.9 589.2,671 589.5,671 589.5,672.3 589.2,672.3 587.9,672.2 585.1,672 581.4,671.8 577.5,671.4 573.8,670.9 570.5,670.2 567.4,669.4 564.2,668.3 560.7,667 557,665.3 552.8,663.5 548.4,661.4 543.9,659.3 539.5,657.3 535.3,655.4 531.6,653.8 528.1,652.5 524.9,651.4 521.8,650.6 518.5,649.9 514.8,649.4 510.9,649 507.2,648.7 504.4,648.6 503.1,648.5 502.8,648.5Z" fill="#21C9F1" fill-opacity="0.5"/>
<path d="M502.8,653.5 503.1,653.4 504.4,653.1 507.2,652.4 510.9,651 514.8,649.2 518.5,646.7 521.8,643.6 524.9,639.6 528.1,634.4 531.6,627.9 535.3,620.1 539.5,611.1 543.9,601.3 548.4,591.1 552.8,581.3 557,572.3 560.7,564.5 564.2,558 567.4,552.9 570.5,548.8 573.8,545.7 577.5,543.3 581.4,541.4 585.1,540.1 587.9,539.3 589.2,539 589.5,539 589.5,543.3 589.2,543.3 587.9,543.6 585.1,544.4 581.4,545.7 577.5,547.6 573.8,550 570.5,553.1 567.4,557.1 564.2,562.3 560.7,568.8 557,576.6 552.8,585.6 548.4,595.4 543.9,605.5 539.5,615.4 535.3,624.4 531.6,632.1 528.1,638.6 524.9,643.8 521.8,647.8 518.5,651 514.8,653.4 510.9,655.3 507.2,656.6 504.4,657.4 503.1,657.7 502.8,657.7Z" fill="#21C9F1" fill-opacity="0.5"/>
<path d="M157.6,423.2 157.8,423.3 159.2,423.9 162,425.3 165.7,427.8 169.6,431.3 173.2,435.9 176.5,441.8 179.7,449.4 182.9,459.2 186.3,471.4 190.1,486.1 194.3,503 198.7,521.5 203.2,540.6 207.6,559.1 211.7,576.1 215.5,590.7 219,603 222.2,612.7 225.3,620.3 228.6,626.2 232.2,630.8 236.1,634.3 239.9,636.8 242.6,638.3 244,638.8 244.2,638.9 244.2,648.5 244,648.4 242.6,647.9 239.9,646.5 236.1,644 232.2,640.4 228.6,635.8 225.3,630 222.2,622.4 219,612.6 215.5,600.4 211.7,585.7 207.6,568.8 203.2,550.2 198.7,531.2 194.3,512.6 190.1,495.7 186.3,481 182.9,468.8 179.7,459 176.5,451.4 173.2,445.6 169.6,441 165.7,437.4 162,434.9 159.2,433.5 157.8,433 157.6,432.9Z" fill="#D969F9" fill-opacity="0.5"/>
<path d="M157.6,475.9 157.8,475.9 159.2,476.4 162,477.5 165.7,479.5 169.6,482.3 173.2,486 176.5,490.7 179.7,496.8 182.9,504.6 186.3,514.4 190.1,526.2 194.3,539.7 198.7,554.6 203.2,569.8 207.6,584.7 211.7,598.2 215.5,610 219,619.7 222.2,627.6 225.3,633.7 228.6,638.4 232.2,642 236.1,644.9 239.9,646.9 242.6,648 244,648.5 244.2,648.5 244.2,654.3 244,654.2 242.6,653.8 239.9,652.6 236.1,650.6 232.2,647.8 228.6,644.1 225.3,639.4 222.2,633.4 219,625.5 215.5,615.8 211.7,604 207.6,590.4 203.2,575.6 198.7,560.3 194.3,545.5 190.1,532 186.3,520.2 182.9,510.4 179.7,502.6 176.5,496.5 173.2,491.8 169.6,488.1 165.7,485.3 162,483.3 159.2,482.2 157.8,481.7 157.6,481.7Z" fill="#D969F9" fill-opacity="0.5"/>
<path d="M157.6,654.3 157.8,654.3 159.2,654.3 162,654.3 165.7,654.3 169.6,654.3 173.2,654.3 176.5,654.3 179.7,654.3 182.9,654.3 186.3,654.3 190.1,654.3 194.3,654.3 198.7,654.3 203.2,654.3 207.6,654.3 211.7,654.3 215.5,654.3 219,654.3 222.2,654.3 225.3,654.3 228.6,654.3 232.2,654.3 236.1,654.3 239.9,654.3 242.6,654.3 244,654.3 244.2,654.3 244.2,677.4 244,677.4 242.6,677.4 239.9,677.4 236.1,677.4 232.2,677.4 228.6,677.4 225.3,677.4 222.2,677.4 219,677.4 215.5,677.4 211.7,677.4 207.6,677.4 203.2,677.4 198.7,677.4 194.3,677.4 190.1,677.4 186.3,677.4 182.9,677.4 179.7,677.4 176.5,677.4 173.2,677.4 169.6,677.4 165.7,677.4 162,677.4 159.2,677.4 157.8,677.4 157.6,677.4Z" fill="#D969F9" fill-opacity="0.5"/>
<path d="M330.2,638.9 330.4,638.9 331.8,638.6 334.6,637.8 338.3,636.4 342.2,634.5 345.8,632 349.1,628.8 352.3,624.7 355.5,619.4 358.9,612.8 362.7,604.9 366.9,595.7 371.3,585.7 375.8,575.3 380.2,565.3 384.3,556.1 388.1,548.2 391.6,541.6 394.8,536.3 397.9,532.1 401.2,529 404.8,526.5 408.7,524.6 412.5,523.2 415.3,522.4 416.6,522.1 416.8,522.1 416.8,528.5 416.6,528.5 415.3,528.8 412.5,529.6 408.7,531 404.8,532.9 401.2,535.4 397.9,538.6 394.8,542.7 391.6,548.1 388.1,554.7 384.3,562.7 380.2,571.9 375.8,582 371.3,592.4 366.9,602.5 362.7,611.7 358.9,619.7 355.5,626.4 352.3,631.7 349.1,635.8 345.8,639 342.2,641.5 338.3,643.5 334.6,644.8 331.8,645.6 330.4,645.9 330.2,646Z" fill="#D969F9" fill-opacity="0.5"/>
<path d="M330.2,646 330.4,645.9 331.8,645.8 334.6,645.6 338.3,645.2 342.2,644.5 345.8,643.7 349.1,642.7 352.3,641.4 355.5,639.6 358.9,637.5 362.7,634.9 366.9,631.9 371.3,628.7 375.8,625.3 380.2,622.1 384.3,619.1 388.1,616.5 391.6,614.4 394.8,612.7 397.9,611.3 401.2,610.3 404.8,609.5 408.7,608.9 412.5,608.4 415.3,608.2 416.6,608.1 416.8,608.1 416.8,617.7 416.6,617.7 415.3,617.8 412.5,618.1 408.7,618.5 404.8,619.1 401.2,619.9 397.9,621 394.8,622.3 391.6,624 388.1,626.2 384.3,628.7 380.2,631.7 375.8,635 371.3,638.3 366.9,641.6 362.7,644.5 358.9,647.1 355.5,649.3 352.3,651 349.1,652.3 345.8,653.4 342.2,654.2 338.3,654.8 334.6,655.2 331.8,655.5 330.4,655.6 330.2,655.6Z" fill="#D969F9" fill-opacity="0.5"/>
<path d="M330.2,655.6 330.4,655.6 331.8,655.5 334.6,655.5 338.3,655.3 342.2,655.1 345.8,654.8 349.1,654.5 352.3,654.1 355.5,653.5 358.9,652.8 362.7,651.9 366.9,650.9 371.3,649.9 375.8,648.8 380.2,647.7 384.3,646.7 388.1,645.9 391.6,645.1 394.8,644.6 397.9,644.1 401.2,643.8 404.8,643.5 408.7,643.3 412.5,643.2 415.3,643.1 416.6,643.1 416.8,643.1 416.8,649.2 416.6,649.2 415.3,649.2 412.5,649.3 408.7,649.4 404.8,649.6 401.2,649.9 397.9,650.3 394.8,650.7 391.6,651.3 388.1,652 384.3,652.9 380.2,653.9 375.8,655 371.3,656.1 366.9,657.2 362.7,658.3 358.9,659.1 355.5,659.9 352.3,660.4 349.1,660.9 345.8,661.2 342.2,661.5 338.3,661.7 334.6,661.9 331.8,662 330.4,662 330.2,662Z" fill="#D969F9" fill-opacity="0.5"/>
<path d="M330.2,662 330.4,662 331.8,662 334.6,662 338.3,661.9 342.2,661.9 345.8,661.8 349.1,661.7 352.3,661.5 355.5,661.4 358.9,661.1 362.7,660.9 366.9,660.6 371.3,660.2 375.8,659.9 380.2,659.6 384.3,659.3 388.1,659 391.6,658.8 394.8,658.6 397.9,658.5 401.2,658.4 404.8,658.3 408.7,658.2 412.5,658.2 415.3,658.2 416.6,658.1 416.8,658.1 416.8,664.6 416.6,664.6 415.3,664.6 412.5,664.6 408.7,664.7 404.8,664.7 401.2,664.8 397.9,665 394.8,665.1 391.6,665.3 388.1,665.6 384.3,665.9 380.2,666.2 375.8,666.6 371.3,667 366.9,667.4 362.7,667.7 358.9,668.1 355.5,668.3 352.3,668.5 349.1,668.7 345.8,668.8 342.2,668.9 338.3,669 334.6,669 331.8,669 330.4,669.1 330.2,669.1Z" fill="#D969F9" fill-opacity="0.5"/>
<path d="M330.2,669.1 330.4,669.1 331.8,669.1 334.6,669.1 338.3,669.1 342.2,669.1 345.8,669.1 349.1,669.1 352.3,669.1 355.5,669.1 358.9,669.1 362.7,669.1 366.9,669.1 371.3,669.1 375.8,669.1 380.2,669.1 384.3,669.1 388.1,669.1 391.6,669.1 394.8,669.1 397.9,669.1 401.2,669.1 404.8,669.1 408.7,669.1 412.5,669.1 415.3,669.1 416.6,669.1 416.8,669.1 416.8,677.4 416.6,677.4 415.3,677.4 412.5,677.4 408.7,677.4 404.8,677.4 401.2,677.4 397.9,677.4 394.8,677.4 391.6,677.4 388.1,677.4 384.3,677.4 380.2,677.4 375.8,677.4 371.3,677.4 366.9,677.4 362.7,677.4 358.9,677.4 355.5,677.4 352.3,677.4 349.1,677.4 345.8,677.4 342.2,677.4 338.3,677.4 334.6,677.4 331.8,677.4 330.4,677.4 330.2,677.4Z" fill="#D969F9" fill-opacity="0.5"/>
<path d="M502.8,502.8 503.1,502.8 504.4,502.8 507.2,502.8 510.9,502.8 514.8,502.8 518.5,502.8 521.8,502.8 524.9,502.8 528.1,502.8 531.6,502.8 535.3,502.8 539.5,502.8 543.9,502.8 548.4,502.8 552.8,502.8 557,502.8 560.7,502.8 564.2,502.8 567.4,502.8 570.5,502.8 573.8,502.8 577.5,502.8 581.4,502.8 585.1,502.8 587.9,502.8 589.2,502.8 589.5,502.8 589.5,508.6 589.2,508.6 587.9,508.6 585.1,508.6 581.4,508.6 577.5,508.6 573.8,508.6 570.5,508.6 567.4,508.6 564.2,508.6 560.7,508.6 557,508.6 552.8,508.6 548.4,508.6 543.9,508.6 539.5,508.6 535.3,508.6 531.6,508.6 528.1,508.6 524.9,508.6 521.8,508.6 518.5,508.6 514.8,508.6 510.9,508.6 507.2,508.6 504.4,508.6 503.1,508.6 502.8,508.6Z" fill="#D969F9" fill-opacity="0.5"/>
<path d="M502.8,523.7 503.1,523.7 504.4,524.1 507.2,525 510.9,526.6 514.8,528.8 518.5,531.8 521.8,535.5 524.9,540.3 528.1,546.6 531.6,554.4 535.3,563.7 539.5,574.5 543.9,586.3 548.4,598.4 552.8,610.2 557,621 560.7,630.4 564.2,638.1 567.4,644.4 570.5,649.2 573.8,653 577.5,655.9 581.4,658.1 585.1,659.7 587.9,660.6 589.2,661 589.5,661 589.5,661.4 589.2,661.3 587.9,661 585.1,660 581.4,658.5 577.5,656.2 573.8,653.3 570.5,649.5 567.4,644.7 564.2,638.5 560.7,630.7 557,621.3 552.8,610.6 548.4,598.8 543.9,586.6 539.5,574.8 535.3,564 531.6,554.7 528.1,546.9 524.9,540.7 521.8,535.8 518.5,532.1 514.8,529.2 510.9,526.9 507.2,525.3 504.4,524.4 503.1,524.1 502.8,524Z" fill="#D969F9" fill-opacity="0.5"/>
<path d="M502.8,534.9 503.1,534.9 504.4,534.9 507.2,534.7 510.9,534.5 514.8,534.2 518.5,533.8 521.8,533.2 524.9,532.5 528.1,531.6 531.6,530.5 535.3,529.1 539.5,527.6 543.9,525.9 548.4,524.1 552.8,522.4 557,520.8 560.7,519.5 564.2,518.3 567.4,517.4 570.5,516.7 573.8,516.2 577.5,515.8 581.4,515.4 585.1,515.2 587.9,515.1 589.2,515 589.5,515 589.5,515.7 589.2,515.7 587.9,515.7 585.1,515.9 581.4,516.1 577.5,516.4 573.8,516.8 570.5,517.4 567.4,518.1 564.2,519 560.7,520.1 557,521.5 552.8,523 548.4,524.7 543.9,526.5 539.5,528.2 535.3,529.8 531.6,531.1 528.1,532.2 524.9,533.1 521.8,533.8 518.5,534.4 514.8,534.8 510.9,535.1 507.2,535.4 504.4,535.5 503.1,535.6 502.8,535.6Z" fill="#D969F9" fill-opacity="0.5"/>
<path d="M502.8,583.7 503.1,583.7 504.4,583.8 507.2,583.9 510.9,584.1 514.8,584.5 518.5,584.9 521.8,585.5 524.9,586.3 528.1,587.2 531.6,588.4 535.3,589.9 539.5,591.5 543.9,593.3 548.4,595.2 552.8,597 557,598.7 560.7,600.1 564.2,601.3 567.4,602.3 570.5,603.1 573.8,603.6 577.5,604.1 581.4,604.4 585.1,604.7 587.9,604.8 589.2,604.9 589.5,604.9 589.5,610.7 589.2,610.6 587.9,610.6 585.1,610.5 581.4,610.2 577.5,609.9 573.8,609.4 570.5,608.8 567.4,608.1 564.2,607.1 560.7,605.9 557,604.5 552.8,602.8 548.4,601 543.9,599.1 539.5,597.3 535.3,595.6 531.6,594.2 528.1,593 524.9,592 521.8,591.3 518.5,590.7 514.8,590.3 510.9,589.9 507.2,589.7 504.4,589.5 503.1,589.5 502.8,589.5Z" fill="#D969F9" fill-opacity="0.5"/>
<path d="M502.8,607.4 503.1,607.5 504.4,607.5 507.2,607.6 510.9,607.9 514.8,608.2 518.5,608.7 521.8,609.3 524.9,610 528.1,611 531.6,612.2 535.3,613.6 539.5,615.3 543.9,617.1 548.4,619 552.8,620.8 557,622.5 560.7,623.9 564.2,625.1 567.4,626.1 570.5,626.8 573.8,627.4 577.5,627.8 581.4,628.2 585.1,628.4 587.9,628.6 589.2,628.6 589.5,628.6 589.5,630.5 589.2,630.5 587.9,630.5 585.1,630.3 581.4,630.1 577.5,629.8 573.8,629.3 570.5,628.7 567.4,628 564.2,627 560.7,625.8 557,624.4 552.8,622.7 548.4,620.9 543.9,619 539.5,617.2 535.3,615.5 531.6,614.1 528.1,612.9 524.9,611.9 521.8,611.2 518.5,610.6 514.8,610.2 510.9,609.8 507.2,609.6 504.4,609.4 503.1,609.4 502.8,609.4Z" fill="#D969F9" fill-opacity="0.5"/>
<path d="M502.8,615.5 503.1,615.5 504.4,615.6 507.2,615.8 510.9,616.1 514.8,616.6 518.5,617.2 521.8,618.1 524.9,619.1 528.1,620.5 531.6,622.2 535.3,624.3 539.5,626.6 543.9,629.2 548.4,631.9 552.8,634.5 557,636.8 560.7,638.9 564.2,640.6 567.4,642 570.5,643 573.8,643.9 577.5,644.5 581.4,645 585.1,645.3 587.9,645.5 589.2,645.6 589.5,645.6 589.5,647.9 589.2,647.9 587.9,647.8 585.1,647.6 581.4,647.2 577.5,646.7 573.8,646.1 570.5,645.3 567.4,644.2 564.2,642.8 560.7,641.1 557,639.1 552.8,636.7 548.4,634.1 543.9,631.5 539.5,628.9 535.3,626.5 531.6,624.4 528.1,622.7 524.9,621.4 521.8,620.3 518.5,619.5 514.8,618.8 510.9,618.3 507.2,618 504.4,617.8 503.1,617.7 502.8,617.7Z" fill="#D969F9" fill-opacity="0.5"/>
<path d="M502.8,632.2 503.1,632.1 504.4,631.9 507.2,631.2 510.9,630 514.8,628.3 518.5,626.2 521.8,623.4 524.9,619.8 528.1,615.2 531.6,609.4 535.3,602.5 539.5,594.5 543.9,585.8 548.4,576.8 552.8,568.1 557,560.1 560.7,553.1 564.2,547.4 567.4,542.8 570.5,539.2 573.8,536.4 577.5,534.2 581.4,532.6 585.1,531.4 587.9,530.7 589.2,530.5 589.5,530.4 589.5,534.3 589.2,534.3 587.9,534.6 585.1,535.3 581.4,536.4 577.5,538.1 573.8,540.3 570.5,543.1 567.4,546.7 564.2,551.3 560.7,557.1 557,564 552.8,572 548.4,580.8 543.9,589.8 539.5,598.6 535.3,606.6 531.6,613.5 528.1,619.3 524.9,623.9 521.8,627.5 518.5,630.3 514.8,632.5 510.9,634.2 507.2,635.3 504.4,636 503.1,636.3 502.8,636.3Z" fill="#D969F9" fill-opacity="0.5"/>
<path d="M502.8,642.4 503.1,642.4 504.4,642.5 507.2,642.5 510.9,642.7 514.8,642.9 518.5,643.1 521.8,643.4 524.9,643.8 528.1,644.3 531.6,645 535.3,645.8 539.5,646.7 543.9,647.7 548.4,648.7 552.8,649.7 557,650.6 560.7,651.4 564.2,652 567.4,652.6 570.5,653 573.8,653.3 577.5,653.5 581.4,653.7 585.1,653.9 587.9,653.9 589.2,654 589.5,654 589.5,654.9 589.2,654.9 587.9,654.9 585.1,654.8 581.4,654.7 577.5,654.5 573.8,654.3 570.5,653.9 567.4,653.5 564.2,653 560.7,652.4 557,651.6 552.8,650.7 548.4,649.7 543.9,648.6 539.5,647.7 535.3,646.8 531.6,646 528.1,645.3 524.9,644.8 521.8,644.4 518.5,644.1 514.8,643.8 510.9,643.6 507.2,643.5 504.4,643.4 503.1,643.4 502.8,643.4Z" fill="#D969F9" fill-opacity="0.5"/>
<path d="M502.8,648.5 503.1,648.5 504.4,648.6 507.2,648.7 510.9,649 514.8,649.4 518.5,649.9 521.8,650.6 524.9,651.4 528.1,652.5 531.6,653.8 535.3,655.4 539.5,657.3 543.9,659.3 548.4,661.4 552.8,663.5 557,665.3 560.7,667 564.2,668.3 567.4,669.4 570.5,670.2 573.8,670.9 577.5,671.4 581.4,671.8 585.1,672 587.9,672.2 589.2,672.3 589.5,672.3 589.5,672.9 589.2,672.9 587.9,672.8 585.1,672.7 581.4,672.4 577.5,672 573.8,671.5 570.5,670.9 567.4,670 564.2,668.9 560.7,667.6 557,666 552.8,664.1 548.4,662.1 543.9,660 539.5,657.9 535.3,656.1 531.6,654.5 528.1,653.1 524.9,652 521.8,651.2 518.5,650.6 514.8,650.1 510.9,649.7 507.2,649.4 504.4,649.2 503.1,649.2 502.8,649.2Z" fill="#D969F9" fill-opacity="0.5"/>
<path d="M502.8,657.7 503.1,657.7 504.4,657.4 507.2,656.6 510.9,655.3 514.8,653.4 518.5,651 521.8,647.8 524.9,643.8 528.1,638.6 531.6,632.1 535.3,624.4 539.5,615.4 543.9,605.5 548.4,595.4 552.8,585.6 557,576.6 560.7,568.8 564.2,562.3 567.4,557.1 570.5,553.1 573.8,550 577.5,547.6 581.4,545.7 585.1,544.4 587.9,543.6 589.2,543.3 589.5,543.3 589.5,549.7 589.2,549.7 587.9,550 585.1,550.8 581.4,552.1 577.5,554 573.8,556.4 570.5,559.6 567.4,563.6 564.2,568.8 560.7,575.3 557,583.2 552.8,592.2 548.4,602 543.9,612.2 539.5,622.1 535.3,631.1 531.6,638.9 528.1,645.4 524.9,650.6 521.8,654.7 518.5,657.8 514.8,660.3 510.9,662.1 507.2,663.5 504.4,664.2 503.1,664.5 502.8,664.6Z" fill="#D969F9" fill-opacity="0.5"/>
<path d="M502.8,666.9 503.1,666.8 504.4,666.5 507.2,665.8 510.9,664.5 514.8,662.6 518.5,660.1 521.8,657 524.9,653 528.1,647.8 531.6,641.3 535.3,633.5 539.5,624.5 543.9,614.6 548.4,604.5 552.8,594.6 557,585.6 560.7,577.8 564.2,571.4 567.4,566.2 570.5,562.1 573.8,559 577.5,556.5 581.4,554.7 585.1,553.3 587.9,552.6 589.2,552.3 589.5,552.2 589.5,556.7 589.2,556.8 587.9,557.1 585.1,557.8 581.4,559.2 577.5,561 573.8,563.5 570.5,566.6 567.4,570.7 564.2,575.9 560.7,582.4 557,590.2 552.8,599.2 548.4,609.1 543.9,619.3 539.5,629.1 535.3,638.2 531.6,646 528.1,652.5 524.9,657.7 521.8,661.7 518.5,664.9 514.8,667.3 510.9,669.2 507.2,670.5 504.4,671.3 503.1,671.6 502.8,671.6Z" fill="#D969F9" fill-opacity="0.5"/>
<path d="M502.8,673.5 503.1,673.5 504.4,673.5 507.2,673.5 510.9,673.3 514.8,673.2 518.5,672.9 521.8,672.7 524.9,672.3 528.1,671.8 531.6,671.3 535.3,670.6 539.5,669.8 543.9,668.9 548.4,668 552.8,667.1 557,666.3 560.7,665.6 564.2,665 567.4,664.5 570.5,664.2 573.8,663.9 577.5,663.7 581.4,663.5 585.1,663.4 587.9,663.3 589.2,663.3 589.5,663.3 589.5,667.1 589.2,667.1 587.9,667.2 585.1,667.2 581.4,667.3 577.5,667.5 573.8,667.7 570.5,668 567.4,668.4 564.2,668.8 560.7,669.4 557,670.1 552.8,670.9 548.4,671.8 543.9,672.7 539.5,673.6 535.3,674.4 531.6,675.1 528.1,675.7 524.9,676.2 521.8,676.5 518.5,676.8 514.8,677 510.9,677.2 507.2,677.3 504.4,677.4 503.1,677.4 502.8,677.4Z" fill="#D969F9" fill-opacity="0.5"/>
<rect x="71.60" y="356.50" width="86.00" height="76.37" fill="#fff" stroke="#4a4a4a" stroke-width="0.85" stroke-linejoin="round"/>
<rect x="71.60" y="432.87" width="86.00" height="48.78" fill="#fff" stroke="#4a4a4a" stroke-width="0.85" stroke-linejoin="round"/>
<rect x="71.60" y="481.65" width="86.00" height="195.75" fill="#fff" stroke="#4a4a4a" stroke-width="0.85" stroke-linejoin="round"/>
<text x="114.60" y="392.74" font-size="5.36" fill="#000" text-anchor="middle">HD6</text>
<text x="114.60" y="400.49" font-size="5.36" fill="#000" text-anchor="middle">(119/500 24%)</text>
<text x="114.60" y="455.32" font-size="5.36" fill="#000" text-anchor="middle">HD7</text>
<text x="114.60" y="463.07" font-size="5.36" fill="#000" text-anchor="middle">(76/500 15%)</text>
<text x="114.60" y="577.58" font-size="5.36" fill="#000" text-anchor="middle">Registry</text>
<text x="114.60" y="585.33" font-size="5.36" fill="#000" text-anchor="middle">(305/500 61%)</text>
<rect x="244.22" y="356.50" width="86.00" height="157.88" fill="#fff" stroke="#4a4a4a" stroke-width="0.85" stroke-linejoin="round"/>
<rect x="244.22" y="514.38" width="86.00" height="62.25" fill="#fff" stroke="#4a4a4a" stroke-width="0.85" stroke-linejoin="round"/>
<rect x="244.22" y="576.64" width="86.00" height="43.64" fill="#fff" stroke="#4a4a4a" stroke-width="0.85" stroke-linejoin="round"/>
<rect x="244.22" y="620.28" width="86.00" height="18.61" fill="#fff" stroke="#4a4a4a" stroke-width="0.85" stroke-linejoin="round"/>
<rect x="244.22" y="638.89" width="86.00" height="38.51" fill="#fff" stroke="#4a4a4a" stroke-width="0.85" stroke-linejoin="round"/>
<text x="287.22" y="433.50" font-size="5.36" fill="#000" text-anchor="middle">IA</text>
<text x="287.22" y="441.25" font-size="5.36" fill="#000" text-anchor="middle">(246/500 49%)</text>
<text x="287.22" y="543.56" font-size="5.36" fill="#000" text-anchor="middle">IB</text>
<text x="287.22" y="551.31" font-size="5.36" fill="#000" text-anchor="middle">(97/500 19%)</text>
<text x="287.22" y="596.51" font-size="5.36" fill="#000" text-anchor="middle">IC</text>
<text x="287.22" y="604.26" font-size="5.36" fill="#000" text-anchor="middle">(68/500 14%)</text>
<text x="287.22" y="627.64" font-size="5.36" fill="#000" text-anchor="middle">II</text>
<text x="287.22" y="635.39" font-size="5.36" fill="#000" text-anchor="middle">(29/500 6%)</text>
<text x="287.22" y="656.20" font-size="5.36" fill="#000" text-anchor="middle">III</text>
<text x="287.22" y="663.95" font-size="5.36" fill="#000" text-anchor="middle">(60/500 12%)</text>
<rect x="416.84" y="356.50" width="86.00" height="172.00" fill="#fff" stroke="#4a4a4a" stroke-width="0.85" stroke-linejoin="round"/>
<rect x="416.84" y="528.50" width="86.00" height="89.21" fill="#fff" stroke="#4a4a4a" stroke-width="0.85" stroke-linejoin="round"/>
<rect x="416.84" y="617.71" width="86.00" height="31.45" fill="#fff" stroke="#4a4a4a" stroke-width="0.85" stroke-linejoin="round"/>
<rect x="416.84" y="649.16" width="86.00" height="15.40" fill="#fff" stroke="#4a4a4a" stroke-width="0.85" stroke-linejoin="round"/>
<rect x="416.84" y="664.56" width="86.00" height="12.84" fill="#fff" stroke="#4a4a4a" stroke-width="0.85" stroke-linejoin="round"/>
<text x="459.84" y="432.81" font-size="5.36" fill="#000" text-anchor="middle">Neoplasms benign,</text>
<text x="459.84" y="440.56" font-size="5.36" fill="#000" text-anchor="middle">malignant and unspecified</text>
<text x="459.84" y="448.31" font-size="5.36" fill="#000" text-anchor="middle">(incl cysts and polyps)</text>
<text x="459.84" y="456.06" font-size="5.36" fill="#000" text-anchor="middle">(268/500 54%)</text>
<text x="459.84" y="567.29" font-size="5.36" fill="#000" text-anchor="middle">Infections and</text>
<text x="459.84" y="575.04" font-size="5.36" fill="#000" text-anchor="middle">infestations</text>
<text x="459.84" y="582.79" font-size="5.36" fill="#000" text-anchor="middle">(139/500 28%)</text>
<text x="459.84" y="631.49" font-size="5.36" fill="#000" text-anchor="middle">Other SOC</text>
<text x="459.84" y="639.24" font-size="5.36" fill="#000" text-anchor="middle">(49/500 10%)</text>
<text x="459.84" y="654.92" font-size="5.36" fill="#000" text-anchor="middle">Cardiac disorders</text>
<text x="459.84" y="662.67" font-size="5.36" fill="#000" text-anchor="middle">(24/500 5%)</text>
<text x="459.84" y="669.04" font-size="5.36" fill="#000" text-anchor="middle">Vascular disorders</text>
<text x="459.84" y="676.79" font-size="5.36" fill="#000" text-anchor="middle">(20/500 4%)</text>
<rect x="589.46" y="356.50" width="86.00" height="138.63" fill="#fff" stroke="#4a4a4a" stroke-width="0.85" stroke-linejoin="round"/>
<rect x="589.46" y="495.13" width="86.00" height="61.61" fill="#fff" stroke="#4a4a4a" stroke-width="0.85" stroke-linejoin="round"/>
<rect x="589.46" y="556.74" width="86.00" height="53.91" fill="#fff" stroke="#4a4a4a" stroke-width="0.85" stroke-linejoin="round"/>
<rect x="589.46" y="610.65" width="86.00" height="19.90" fill="#fff" stroke="#4a4a4a" stroke-width="0.85" stroke-linejoin="round"/>
<rect x="589.46" y="630.55" width="86.00" height="8.99" fill="#fff" stroke="#4a4a4a" stroke-width="0.85" stroke-linejoin="round"/>
<rect x="589.46" y="639.53" width="86.00" height="8.34" fill="#fff" stroke="#4a4a4a" stroke-width="0.85" stroke-linejoin="round"/>
<rect x="589.46" y="647.88" width="86.00" height="7.06" fill="#fff" stroke="#4a4a4a" stroke-width="0.85" stroke-linejoin="round"/>
<rect x="589.46" y="654.94" width="86.00" height="6.42" fill="#fff" stroke="#4a4a4a" stroke-width="0.85" stroke-linejoin="round"/>
<rect x="589.46" y="661.36" width="86.00" height="5.78" fill="#fff" stroke="#4a4a4a" stroke-width="0.85" stroke-linejoin="round"/>
<rect x="589.46" y="667.13" width="86.00" height="5.78" fill="#fff" stroke="#4a4a4a" stroke-width="0.85" stroke-linejoin="round"/>
<rect x="589.46" y="672.91" width="86.00" height="4.49" fill="#fff" stroke="#4a4a4a" stroke-width="0.85" stroke-linejoin="round"/>
<text x="632.46" y="427.74" font-size="5.36" fill="#000" text-anchor="middle">Multiple Myeloma (216/500 43%)</text>
<text x="632.46" y="527.86" font-size="5.36" fill="#000" text-anchor="middle">Other COD (96/500 19%)</text>
<text x="632.46" y="585.63" font-size="5.36" fill="#000" text-anchor="middle">Sepsis (84/500 17%)</text>
<text x="632.46" y="622.53" font-size="5.36" fill="#000" text-anchor="middle">Pneumonia (31/500 6%)</text>
<text x="632.46" y="636.97" font-size="5.36" fill="#000" text-anchor="middle">Plasma cell leukaemia (14/500 3%)</text>
<text x="632.46" y="645.64" font-size="5.36" fill="#000" text-anchor="middle">COVID-19 (13/500 3%)</text>
<text x="632.46" y="653.34" font-size="5.36" fill="#000" text-anchor="middle">Renal failure (11/500 2%)</text>
<text x="632.46" y="660.08" font-size="5.36" fill="#000" text-anchor="middle">AML (10/500 2%)</text>
<text x="632.46" y="666.17" font-size="5.36" fill="#000" text-anchor="middle">Cerebral haemorrhage (9/500 2%)</text>
<text x="632.46" y="671.95" font-size="5.36" fill="#000" text-anchor="middle">Multiple organ failure (9/500 2%)</text>
<text x="632.46" y="677.08" font-size="5.36" fill="#000" text-anchor="middle">MDS (7/500 1%)</text>
<line x1="41.4" x2="41.4" y1="340.8" y2="693.75" stroke="#4a4a4a" stroke-width="0.95"/>
<line x1="40.949999999999996" x2="683.8" y1="693.3" y2="693.3" stroke="#4a4a4a" stroke-width="0.95"/>
<line x1="39.8" x2="41.4" y1="677.40" y2="677.40" stroke="#333" stroke-width="0.8"/>
<text x="38.7" y="680.70" font-size="7.6" fill="#4D4D4D" text-anchor="end">0</text>
<line x1="39.8" x2="41.4" y1="613.22" y2="613.22" stroke="#333" stroke-width="0.8"/>
<text x="38.7" y="616.52" font-size="7.6" fill="#4D4D4D" text-anchor="end">100</text>
<line x1="39.8" x2="41.4" y1="549.04" y2="549.04" stroke="#333" stroke-width="0.8"/>
<text x="38.7" y="552.34" font-size="7.6" fill="#4D4D4D" text-anchor="end">200</text>
<line x1="39.8" x2="41.4" y1="484.86" y2="484.86" stroke="#333" stroke-width="0.8"/>
<text x="38.7" y="488.16" font-size="7.6" fill="#4D4D4D" text-anchor="end">300</text>
<line x1="39.8" x2="41.4" y1="420.68" y2="420.68" stroke="#333" stroke-width="0.8"/>
<text x="38.7" y="423.98" font-size="7.6" fill="#4D4D4D" text-anchor="end">400</text>
<line x1="39.8" x2="41.4" y1="356.50" y2="356.50" stroke="#333" stroke-width="0.8"/>
<text x="38.7" y="359.80" font-size="7.6" fill="#4D4D4D" text-anchor="end">500</text>
<text x="116.60" y="708" font-size="10.4" fill="#000" text-anchor="middle">Data source</text>
<text x="289.90" y="708" font-size="10.4" fill="#000" text-anchor="middle">Category</text>
<text x="463.20" y="708" font-size="10.4" fill="#000" text-anchor="middle">SOC</text>
<text x="636.50" y="708" font-size="10.4" fill="#000" text-anchor="middle">PT</text>
<text transform="translate(22.6,517) rotate(-90)" font-size="9.4" fill="#000" text-anchor="middle">Patients</text>
</svg>
</body></html>
